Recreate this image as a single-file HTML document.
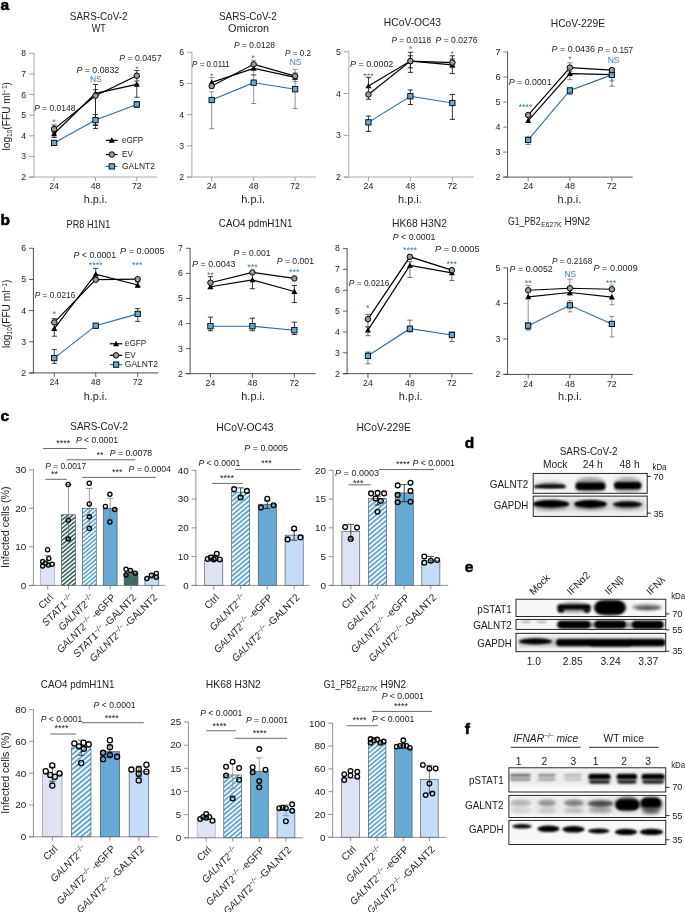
<!DOCTYPE html>
<html><head><meta charset="utf-8"><title>Figure</title>
<style>
html,body{margin:0;padding:0;background:#fff;}
svg{display:block;font-family:"Liberation Sans", sans-serif;fill:#222;will-change:transform;}
</style></head><body>
<svg width="685" height="912" viewBox="0 0 685 912">
<defs>
<pattern id="hb" width="2.9" height="2.9" patternUnits="userSpaceOnUse" patternTransform="rotate(-45)"><rect width="2.9" height="2.9" fill="#fff"/><rect width="2.9" height="1.7" fill="#66a9d2"/></pattern>
<pattern id="ht" width="2.9" height="2.9" patternUnits="userSpaceOnUse" patternTransform="rotate(-45)"><rect width="2.9" height="2.9" fill="#fff"/><rect width="2.9" height="1.7" fill="#3f6b67"/></pattern>
<filter id="b1" x="-20%" y="-50%" width="140%" height="200%"><feGaussianBlur stdDeviation="1.1"/></filter>
<filter id="b2" x="-20%" y="-50%" width="140%" height="200%"><feGaussianBlur stdDeviation="1.8"/></filter>
<filter id="b0" x="-20%" y="-50%" width="140%" height="200%"><feGaussianBlur stdDeviation="0.7"/></filter>
</defs>
<rect width="685" height="912" fill="#fff"/>
<text x="0.50" y="9.80" font-size="15.5" fill="#000" font-weight="bold" stroke="#000" stroke-width="0.55">a</text>
<text x="0.50" y="224.80" font-size="15.5" fill="#000" font-weight="bold" stroke="#000" stroke-width="0.55">b</text>
<line x1="34.00" y1="53.00" x2="34.00" y2="177.85" stroke="#c6c6c6" stroke-width="1.5" />
<line x1="29.10" y1="177.10" x2="157.50" y2="177.10" stroke="#c6c6c6" stroke-width="1.5" />
<line x1="29.10" y1="177.10" x2="34.00" y2="177.10" stroke="#777" stroke-width="0.7" />
<text x="26.20" y="180.05" font-size="8.3" text-anchor="end" textLength="4.85" lengthAdjust="spacingAndGlyphs">2</text>
<line x1="29.10" y1="156.47" x2="34.00" y2="156.47" stroke="#777" stroke-width="0.7" />
<text x="26.20" y="159.41" font-size="8.3" text-anchor="end" textLength="4.85" lengthAdjust="spacingAndGlyphs">3</text>
<line x1="29.10" y1="135.83" x2="34.00" y2="135.83" stroke="#777" stroke-width="0.7" />
<text x="26.20" y="138.78" font-size="8.3" text-anchor="end" textLength="4.85" lengthAdjust="spacingAndGlyphs">4</text>
<line x1="29.10" y1="115.20" x2="34.00" y2="115.20" stroke="#777" stroke-width="0.7" />
<text x="26.20" y="118.15" font-size="8.3" text-anchor="end" textLength="4.85" lengthAdjust="spacingAndGlyphs">5</text>
<line x1="29.10" y1="94.57" x2="34.00" y2="94.57" stroke="#777" stroke-width="0.7" />
<text x="26.20" y="97.51" font-size="8.3" text-anchor="end" textLength="4.85" lengthAdjust="spacingAndGlyphs">6</text>
<line x1="29.10" y1="73.93" x2="34.00" y2="73.93" stroke="#777" stroke-width="0.7" />
<text x="26.20" y="76.88" font-size="8.3" text-anchor="end" textLength="4.85" lengthAdjust="spacingAndGlyphs">7</text>
<line x1="29.10" y1="53.30" x2="34.00" y2="53.30" stroke="#777" stroke-width="0.7" />
<text x="26.20" y="56.25" font-size="8.3" text-anchor="end" textLength="4.85" lengthAdjust="spacingAndGlyphs">8</text>
<line x1="54.10" y1="177.10" x2="54.10" y2="181.10" stroke="#777" stroke-width="0.7" />
<text x="54.10" y="189.20" font-size="8.3" text-anchor="middle" textLength="9.70" lengthAdjust="spacingAndGlyphs">24</text>
<line x1="95.50" y1="177.10" x2="95.50" y2="181.10" stroke="#777" stroke-width="0.7" />
<text x="95.50" y="189.20" font-size="8.3" text-anchor="middle" textLength="9.70" lengthAdjust="spacingAndGlyphs">48</text>
<line x1="136.80" y1="177.10" x2="136.80" y2="181.10" stroke="#777" stroke-width="0.7" />
<text x="136.80" y="189.20" font-size="8.3" text-anchor="middle" textLength="9.70" lengthAdjust="spacingAndGlyphs">72</text>
<text x="98.70" y="20.30" font-size="10.3" text-anchor="middle" textLength="57.80" lengthAdjust="spacingAndGlyphs">SARS-CoV-2</text>
<text x="98.70" y="32.20" font-size="10.3" text-anchor="middle" textLength="14.00" lengthAdjust="spacingAndGlyphs">WT</text>
<text x="95.50" y="202.50" font-size="10.3" text-anchor="middle" textLength="23.70" lengthAdjust="spacingAndGlyphs">h.p.i.</text>
<text x="10.40" y="116.30" font-size="10.2" text-anchor="middle" transform="rotate(-90 10.40 116.30)">log<tspan font-size="6.5" dy="2">10</tspan><tspan dy="-2">(FFU ml</tspan><tspan font-size="6.5" dy="-3.5">−1</tspan><tspan dy="3.5">)</tspan></text>
<line x1="95.50" y1="84.50" x2="95.50" y2="128.50" stroke="#222" stroke-width="0.85" />
<line x1="92.90" y1="84.50" x2="98.10" y2="84.50" stroke="#222" stroke-width="0.85" />
<line x1="92.90" y1="128.50" x2="98.10" y2="128.50" stroke="#222" stroke-width="0.85" />
<line x1="95.50" y1="89.60" x2="95.50" y2="124.70" stroke="#222" stroke-width="0.85" />
<line x1="92.90" y1="89.60" x2="98.10" y2="89.60" stroke="#222" stroke-width="0.85" />
<line x1="92.90" y1="124.70" x2="98.10" y2="124.70" stroke="#222" stroke-width="0.85" />
<line x1="136.80" y1="70.50" x2="136.80" y2="81.00" stroke="#222" stroke-width="0.85" />
<line x1="134.20" y1="70.50" x2="139.40" y2="70.50" stroke="#222" stroke-width="0.85" />
<line x1="134.20" y1="81.00" x2="139.40" y2="81.00" stroke="#222" stroke-width="0.85" />
<line x1="136.80" y1="84.30" x2="136.80" y2="97.20" stroke="#222" stroke-width="0.85" />
<line x1="134.20" y1="84.30" x2="139.40" y2="84.30" stroke="#222" stroke-width="0.85" />
<line x1="134.20" y1="97.20" x2="139.40" y2="97.20" stroke="#222" stroke-width="0.85" />
<line x1="136.80" y1="101.50" x2="136.80" y2="107.30" stroke="#222" stroke-width="0.85" />
<line x1="134.20" y1="101.50" x2="139.40" y2="101.50" stroke="#222" stroke-width="0.85" />
<line x1="134.20" y1="107.30" x2="139.40" y2="107.30" stroke="#222" stroke-width="0.85" />
<line x1="54.10" y1="125.00" x2="54.10" y2="133.00" stroke="#222" stroke-width="0.85" />
<line x1="51.50" y1="125.00" x2="56.70" y2="125.00" stroke="#222" stroke-width="0.85" />
<line x1="51.50" y1="133.00" x2="56.70" y2="133.00" stroke="#222" stroke-width="0.85" />
<line x1="54.10" y1="131.00" x2="54.10" y2="137.50" stroke="#222" stroke-width="0.85" />
<line x1="51.50" y1="131.00" x2="56.70" y2="131.00" stroke="#222" stroke-width="0.85" />
<line x1="51.50" y1="137.50" x2="56.70" y2="137.50" stroke="#222" stroke-width="0.85" />
<line x1="95.50" y1="114.60" x2="95.50" y2="125.50" stroke="#222" stroke-width="0.85" />
<line x1="92.90" y1="114.60" x2="98.10" y2="114.60" stroke="#222" stroke-width="0.85" />
<line x1="92.90" y1="125.50" x2="98.10" y2="125.50" stroke="#222" stroke-width="0.85" />
<polyline points="54.10,142.90 95.50,120.10 136.80,104.40" fill="none" stroke="#2f6c9c" stroke-width="1.1"/>
<polyline points="54.10,133.80 95.50,93.40 136.80,84.30" fill="none" stroke="#000" stroke-width="1.2"/>
<polyline points="54.10,129.10 95.50,95.70 136.80,75.70" fill="none" stroke="#000" stroke-width="1.2"/>
<path d="M54.10 130.80 L57.10 136.20 L51.10 136.20 Z" fill="#000"/>
<path d="M95.50 90.40 L98.50 95.80 L92.50 95.80 Z" fill="#000"/>
<path d="M136.80 81.30 L139.80 86.70 L133.80 86.70 Z" fill="#000"/>
<rect x="51.45" y="140.25" width="5.3" height="5.3" fill="#66a9d2" stroke="#000" stroke-width="0.9"/>
<rect x="92.85" y="117.45" width="5.3" height="5.3" fill="#66a9d2" stroke="#000" stroke-width="0.9"/>
<rect x="134.15" y="101.75" width="5.3" height="5.3" fill="#66a9d2" stroke="#000" stroke-width="0.9"/>
<circle cx="54.10" cy="129.10" r="2.75" fill="#9b9b9b" stroke="#000" stroke-width="1.0"/>
<circle cx="95.50" cy="95.70" r="2.75" fill="#9b9b9b" stroke="#000" stroke-width="1.0"/>
<circle cx="136.80" cy="75.70" r="2.75" fill="#9b9b9b" stroke="#000" stroke-width="1.0"/>
<line x1="105.90" y1="140.30" x2="117.70" y2="140.30" stroke="#000" stroke-width="1.2" />
<path d="M111.80 137.30 L114.80 142.70 L108.80 142.70 Z" fill="#000"/>
<line x1="105.90" y1="154.50" x2="117.70" y2="154.50" stroke="#000" stroke-width="1.2" />
<circle cx="111.80" cy="154.50" r="2.75" fill="#9b9b9b" stroke="#000" stroke-width="1.0"/>
<line x1="105.90" y1="166.40" x2="117.70" y2="166.40" stroke="#2f6c9c" stroke-width="1.1" />
<rect x="109.15" y="163.75" width="5.3" height="5.3" fill="#66a9d2" stroke="#000" stroke-width="0.9"/>
<text x="122.00" y="142.70" font-size="8.8" textLength="21.30" lengthAdjust="spacingAndGlyphs">eGFP</text>
<text x="122.00" y="156.90" font-size="8.8" textLength="10.80" lengthAdjust="spacingAndGlyphs">EV</text>
<text x="122.00" y="168.80" font-size="8.8" textLength="33.00" lengthAdjust="spacingAndGlyphs">GALNT2</text>
<text x="34.20" y="110.80" font-size="8.6" textLength="41.30" lengthAdjust="spacingAndGlyphs"><tspan font-style="italic">P</tspan> = 0.0148</text>
<text x="54.10" y="125.05" font-size="9.0" text-anchor="middle" fill="#3b7bb0">*</text>
<text x="76.50" y="73.10" font-size="8.6" textLength="42.70" lengthAdjust="spacingAndGlyphs"><tspan font-style="italic">P</tspan> = 0.0832</text>
<text x="96.00" y="82.00" font-size="8.5" text-anchor="middle" fill="#3b7bb0">NS</text>
<text x="119.20" y="61.10" font-size="8.6" textLength="42.30" lengthAdjust="spacingAndGlyphs"><tspan font-style="italic">P</tspan> = 0.0457</text>
<text x="137.00" y="72.35" font-size="9.0" text-anchor="middle" fill="#3b7bb0">*</text>
<line x1="191.90" y1="52.00" x2="191.90" y2="177.85" stroke="#c6c6c6" stroke-width="1.5" />
<line x1="187.00" y1="177.10" x2="316.00" y2="177.10" stroke="#c6c6c6" stroke-width="1.5" />
<line x1="187.00" y1="177.10" x2="191.90" y2="177.10" stroke="#777" stroke-width="0.7" />
<text x="184.10" y="180.05" font-size="8.3" text-anchor="end" textLength="4.85" lengthAdjust="spacingAndGlyphs">2</text>
<line x1="187.00" y1="145.90" x2="191.90" y2="145.90" stroke="#777" stroke-width="0.7" />
<text x="184.10" y="148.85" font-size="8.3" text-anchor="end" textLength="4.85" lengthAdjust="spacingAndGlyphs">3</text>
<line x1="187.00" y1="114.70" x2="191.90" y2="114.70" stroke="#777" stroke-width="0.7" />
<text x="184.10" y="117.65" font-size="8.3" text-anchor="end" textLength="4.85" lengthAdjust="spacingAndGlyphs">4</text>
<line x1="187.00" y1="83.50" x2="191.90" y2="83.50" stroke="#777" stroke-width="0.7" />
<text x="184.10" y="86.45" font-size="8.3" text-anchor="end" textLength="4.85" lengthAdjust="spacingAndGlyphs">5</text>
<line x1="187.00" y1="52.30" x2="191.90" y2="52.30" stroke="#777" stroke-width="0.7" />
<text x="184.10" y="55.25" font-size="8.3" text-anchor="end" textLength="4.85" lengthAdjust="spacingAndGlyphs">6</text>
<line x1="211.70" y1="177.10" x2="211.70" y2="181.10" stroke="#777" stroke-width="0.7" />
<text x="211.70" y="189.20" font-size="8.3" text-anchor="middle" textLength="9.70" lengthAdjust="spacingAndGlyphs">24</text>
<line x1="253.66" y1="177.10" x2="253.66" y2="181.10" stroke="#777" stroke-width="0.7" />
<text x="253.66" y="189.20" font-size="8.3" text-anchor="middle" textLength="9.70" lengthAdjust="spacingAndGlyphs">48</text>
<line x1="295.12" y1="177.10" x2="295.12" y2="181.10" stroke="#777" stroke-width="0.7" />
<text x="295.12" y="189.20" font-size="8.3" text-anchor="middle" textLength="9.70" lengthAdjust="spacingAndGlyphs">72</text>
<text x="247.88" y="20.30" font-size="10.3" text-anchor="middle" textLength="57.80" lengthAdjust="spacingAndGlyphs">SARS-CoV-2</text>
<text x="248.63" y="32.20" font-size="10.3" text-anchor="middle" textLength="41.00" lengthAdjust="spacingAndGlyphs">Omicron</text>
<text x="253.16" y="202.50" font-size="10.3" text-anchor="middle" textLength="23.70" lengthAdjust="spacingAndGlyphs">h.p.i.</text>
<line x1="211.70" y1="91.71" x2="211.70" y2="128.64" stroke="#666" stroke-width="0.7" />
<line x1="209.10" y1="91.71" x2="214.30" y2="91.71" stroke="#666" stroke-width="0.7" />
<line x1="209.10" y1="128.64" x2="214.30" y2="128.64" stroke="#666" stroke-width="0.7" />
<line x1="253.66" y1="74.62" x2="253.66" y2="103.52" stroke="#666" stroke-width="0.7" />
<line x1="251.06" y1="74.62" x2="256.26" y2="74.62" stroke="#666" stroke-width="0.7" />
<line x1="251.06" y1="103.52" x2="256.26" y2="103.52" stroke="#666" stroke-width="0.7" />
<line x1="295.12" y1="69.35" x2="295.12" y2="108.54" stroke="#666" stroke-width="0.7" />
<line x1="292.52" y1="69.35" x2="297.72" y2="69.35" stroke="#666" stroke-width="0.7" />
<line x1="292.52" y1="108.54" x2="297.72" y2="108.54" stroke="#666" stroke-width="0.7" />
<line x1="211.70" y1="77.39" x2="211.70" y2="88.44" stroke="#666" stroke-width="0.7" />
<line x1="209.10" y1="77.39" x2="214.30" y2="77.39" stroke="#666" stroke-width="0.7" />
<line x1="209.10" y1="88.44" x2="214.30" y2="88.44" stroke="#666" stroke-width="0.7" />
<line x1="253.66" y1="60.30" x2="253.66" y2="75.38" stroke="#666" stroke-width="0.7" />
<line x1="251.06" y1="60.30" x2="256.26" y2="60.30" stroke="#666" stroke-width="0.7" />
<line x1="251.06" y1="75.38" x2="256.26" y2="75.38" stroke="#666" stroke-width="0.7" />
<line x1="295.12" y1="72.86" x2="295.12" y2="81.66" stroke="#666" stroke-width="0.7" />
<line x1="292.52" y1="72.86" x2="297.72" y2="72.86" stroke="#666" stroke-width="0.7" />
<line x1="292.52" y1="81.66" x2="297.72" y2="81.66" stroke="#666" stroke-width="0.7" />
<polyline points="211.70,100.00 253.66,82.66 295.12,89.20" fill="none" stroke="#2f6c9c" stroke-width="1.1"/>
<polyline points="211.70,82.41 253.66,68.34 295.12,77.39" fill="none" stroke="#000" stroke-width="1.2"/>
<polyline points="211.70,85.93 253.66,64.32 295.12,76.13" fill="none" stroke="#000" stroke-width="1.2"/>
<path d="M211.70 79.41 L214.70 84.81 L208.70 84.81 Z" fill="#000"/>
<path d="M253.66 65.34 L256.66 70.74 L250.66 70.74 Z" fill="#000"/>
<path d="M295.12 74.39 L298.12 79.79 L292.12 79.79 Z" fill="#000"/>
<rect x="209.05" y="97.35" width="5.3" height="5.3" fill="#66a9d2" stroke="#000" stroke-width="0.9"/>
<rect x="251.01" y="80.01" width="5.3" height="5.3" fill="#66a9d2" stroke="#000" stroke-width="0.9"/>
<rect x="292.47" y="86.55" width="5.3" height="5.3" fill="#66a9d2" stroke="#000" stroke-width="0.9"/>
<circle cx="211.70" cy="85.93" r="2.75" fill="#9b9b9b" stroke="#000" stroke-width="1.0"/>
<circle cx="253.66" cy="64.32" r="2.75" fill="#9b9b9b" stroke="#000" stroke-width="1.0"/>
<circle cx="295.12" cy="76.13" r="2.75" fill="#9b9b9b" stroke="#000" stroke-width="1.0"/>
<text x="192.10" y="67.34" font-size="8.6" textLength="37.69" lengthAdjust="spacingAndGlyphs"><tspan font-style="italic">P</tspan> = 0.0111</text>
<text x="211.70" y="79.18" font-size="9.0" text-anchor="middle" fill="#3b7bb0">*</text>
<text x="234.06" y="47.74" font-size="8.6" textLength="40.95" lengthAdjust="spacingAndGlyphs"><tspan font-style="italic">P</tspan> = 0.0128</text>
<text x="252.90" y="60.83" font-size="9.0" text-anchor="middle" fill="#3b7bb0">*</text>
<text x="285.07" y="55.78" font-size="8.6" textLength="25.88" lengthAdjust="spacingAndGlyphs"><tspan font-style="italic">P</tspan> = 0.2</text>
<text x="295.62" y="64.57" font-size="8.5" text-anchor="middle" fill="#3b7bb0">NS</text>
<line x1="348.70" y1="51.50" x2="348.70" y2="177.85" stroke="#c6c6c6" stroke-width="1.5" />
<line x1="343.80" y1="177.10" x2="473.70" y2="177.10" stroke="#c6c6c6" stroke-width="1.5" />
<line x1="343.80" y1="177.10" x2="348.70" y2="177.10" stroke="#777" stroke-width="0.7" />
<text x="340.90" y="180.05" font-size="8.3" text-anchor="end" textLength="4.85" lengthAdjust="spacingAndGlyphs">2</text>
<line x1="343.80" y1="135.33" x2="348.70" y2="135.33" stroke="#777" stroke-width="0.7" />
<text x="340.90" y="138.28" font-size="8.3" text-anchor="end" textLength="4.85" lengthAdjust="spacingAndGlyphs">3</text>
<line x1="343.80" y1="93.57" x2="348.70" y2="93.57" stroke="#777" stroke-width="0.7" />
<text x="340.90" y="96.51" font-size="8.3" text-anchor="end" textLength="4.85" lengthAdjust="spacingAndGlyphs">4</text>
<line x1="343.80" y1="51.80" x2="348.70" y2="51.80" stroke="#777" stroke-width="0.7" />
<text x="340.90" y="54.75" font-size="8.3" text-anchor="end" textLength="4.85" lengthAdjust="spacingAndGlyphs">5</text>
<line x1="368.44" y1="177.10" x2="368.44" y2="181.10" stroke="#777" stroke-width="0.7" />
<text x="368.44" y="189.20" font-size="8.3" text-anchor="middle" textLength="9.70" lengthAdjust="spacingAndGlyphs">24</text>
<line x1="410.40" y1="177.10" x2="410.40" y2="181.10" stroke="#777" stroke-width="0.7" />
<text x="410.40" y="189.20" font-size="8.3" text-anchor="middle" textLength="9.70" lengthAdjust="spacingAndGlyphs">48</text>
<line x1="452.36" y1="177.10" x2="452.36" y2="181.10" stroke="#777" stroke-width="0.7" />
<text x="452.36" y="189.20" font-size="8.3" text-anchor="middle" textLength="9.70" lengthAdjust="spacingAndGlyphs">72</text>
<text x="412.41" y="25.63" font-size="10.3" text-anchor="middle">HCoV-OC43</text>
<text x="409.90" y="202.50" font-size="10.3" text-anchor="middle" textLength="23.70" lengthAdjust="spacingAndGlyphs">h.p.i.</text>
<line x1="368.44" y1="77.39" x2="368.44" y2="99.25" stroke="#111" stroke-width="0.85" />
<line x1="365.84" y1="77.39" x2="371.04" y2="77.39" stroke="#111" stroke-width="0.85" />
<line x1="365.84" y1="99.25" x2="371.04" y2="99.25" stroke="#111" stroke-width="0.85" />
<line x1="410.40" y1="52.26" x2="410.40" y2="72.36" stroke="#111" stroke-width="0.85" />
<line x1="407.80" y1="52.26" x2="413.00" y2="52.26" stroke="#111" stroke-width="0.85" />
<line x1="407.80" y1="72.36" x2="413.00" y2="72.36" stroke="#111" stroke-width="0.85" />
<line x1="410.40" y1="55.78" x2="410.40" y2="67.84" stroke="#111" stroke-width="0.85" />
<line x1="407.80" y1="55.78" x2="413.00" y2="55.78" stroke="#111" stroke-width="0.85" />
<line x1="407.80" y1="67.84" x2="413.00" y2="67.84" stroke="#111" stroke-width="0.85" />
<line x1="452.36" y1="55.78" x2="452.36" y2="73.62" stroke="#111" stroke-width="0.85" />
<line x1="449.76" y1="55.78" x2="454.96" y2="55.78" stroke="#111" stroke-width="0.85" />
<line x1="449.76" y1="73.62" x2="454.96" y2="73.62" stroke="#111" stroke-width="0.85" />
<line x1="452.36" y1="59.05" x2="452.36" y2="67.34" stroke="#111" stroke-width="0.85" />
<line x1="449.76" y1="59.05" x2="454.96" y2="59.05" stroke="#111" stroke-width="0.85" />
<line x1="449.76" y1="67.34" x2="454.96" y2="67.34" stroke="#111" stroke-width="0.85" />
<line x1="368.44" y1="116.08" x2="368.44" y2="131.41" stroke="#111" stroke-width="0.85" />
<line x1="365.84" y1="116.08" x2="371.04" y2="116.08" stroke="#111" stroke-width="0.85" />
<line x1="365.84" y1="131.41" x2="371.04" y2="131.41" stroke="#111" stroke-width="0.85" />
<line x1="410.40" y1="89.95" x2="410.40" y2="104.52" stroke="#111" stroke-width="0.85" />
<line x1="407.80" y1="89.95" x2="413.00" y2="89.95" stroke="#111" stroke-width="0.85" />
<line x1="407.80" y1="104.52" x2="413.00" y2="104.52" stroke="#111" stroke-width="0.85" />
<line x1="452.36" y1="94.47" x2="452.36" y2="119.35" stroke="#111" stroke-width="0.85" />
<line x1="449.76" y1="94.47" x2="454.96" y2="94.47" stroke="#111" stroke-width="0.85" />
<line x1="449.76" y1="119.35" x2="454.96" y2="119.35" stroke="#111" stroke-width="0.85" />
<polyline points="368.44,122.36 410.40,96.23 452.36,103.02" fill="none" stroke="#2f6c9c" stroke-width="1.1"/>
<polyline points="368.44,85.93 410.40,61.06 452.36,64.82" fill="none" stroke="#000" stroke-width="1.2"/>
<polyline points="368.44,94.47 410.40,61.06 452.36,62.56" fill="none" stroke="#000" stroke-width="1.2"/>
<path d="M368.44 82.93 L371.44 88.33 L365.44 88.33 Z" fill="#000"/>
<path d="M410.40 58.06 L413.40 63.46 L407.40 63.46 Z" fill="#000"/>
<path d="M452.36 61.82 L455.36 67.22 L449.36 67.22 Z" fill="#000"/>
<rect x="365.79" y="119.71" width="5.3" height="5.3" fill="#66a9d2" stroke="#000" stroke-width="0.9"/>
<rect x="407.75" y="93.58" width="5.3" height="5.3" fill="#66a9d2" stroke="#000" stroke-width="0.9"/>
<rect x="449.71" y="100.37" width="5.3" height="5.3" fill="#66a9d2" stroke="#000" stroke-width="0.9"/>
<circle cx="368.44" cy="94.47" r="2.75" fill="#9b9b9b" stroke="#000" stroke-width="1.0"/>
<circle cx="410.40" cy="61.06" r="2.75" fill="#9b9b9b" stroke="#000" stroke-width="1.0"/>
<circle cx="452.36" cy="62.56" r="2.75" fill="#9b9b9b" stroke="#000" stroke-width="1.0"/>
<text x="350.10" y="66.58" font-size="8.6" textLength="43.22" lengthAdjust="spacingAndGlyphs"><tspan font-style="italic">P</tspan> = 0.0002</text>
<text x="368.44" y="78.92" font-size="9.0" text-anchor="middle" fill="#3b7bb0">***</text>
<text x="391.56" y="43.22" font-size="8.6" textLength="39.45" lengthAdjust="spacingAndGlyphs"><tspan font-style="italic">P</tspan> = 0.0118</text>
<text x="410.40" y="52.42" font-size="9.0" text-anchor="middle" fill="#3b7bb0">*</text>
<text x="435.53" y="43.22" font-size="8.6" textLength="41.96" lengthAdjust="spacingAndGlyphs"><tspan font-style="italic">P</tspan> = 0.0276</text>
<text x="452.36" y="57.07" font-size="9.0" text-anchor="middle" fill="#3b7bb0">*</text>
<line x1="507.60" y1="51.70" x2="507.60" y2="177.60" stroke="#5a5a5a" stroke-width="1.0" />
<line x1="503.30" y1="177.10" x2="632.70" y2="177.10" stroke="#5a5a5a" stroke-width="1.0" />
<line x1="503.30" y1="177.10" x2="507.60" y2="177.10" stroke="#5a5a5a" stroke-width="0.8" />
<text x="500.40" y="180.15" font-size="8.6" text-anchor="end" textLength="5.00" lengthAdjust="spacingAndGlyphs">2</text>
<line x1="503.30" y1="152.08" x2="507.60" y2="152.08" stroke="#5a5a5a" stroke-width="0.8" />
<text x="500.40" y="155.13" font-size="8.6" text-anchor="end" textLength="5.00" lengthAdjust="spacingAndGlyphs">3</text>
<line x1="503.30" y1="127.06" x2="507.60" y2="127.06" stroke="#5a5a5a" stroke-width="0.8" />
<text x="500.40" y="130.11" font-size="8.6" text-anchor="end" textLength="5.00" lengthAdjust="spacingAndGlyphs">4</text>
<line x1="503.30" y1="102.04" x2="507.60" y2="102.04" stroke="#5a5a5a" stroke-width="0.8" />
<text x="500.40" y="105.09" font-size="8.6" text-anchor="end" textLength="5.00" lengthAdjust="spacingAndGlyphs">5</text>
<line x1="503.30" y1="77.02" x2="507.60" y2="77.02" stroke="#5a5a5a" stroke-width="0.8" />
<text x="500.40" y="80.07" font-size="8.6" text-anchor="end" textLength="5.00" lengthAdjust="spacingAndGlyphs">6</text>
<line x1="503.30" y1="52.00" x2="507.60" y2="52.00" stroke="#5a5a5a" stroke-width="0.8" />
<text x="500.40" y="55.05" font-size="8.6" text-anchor="end" textLength="5.00" lengthAdjust="spacingAndGlyphs">7</text>
<line x1="528.19" y1="177.10" x2="528.19" y2="181.10" stroke="#5a5a5a" stroke-width="0.8" />
<text x="528.19" y="189.20" font-size="8.6" text-anchor="middle" textLength="10.00" lengthAdjust="spacingAndGlyphs">24</text>
<line x1="569.90" y1="177.10" x2="569.90" y2="181.10" stroke="#5a5a5a" stroke-width="0.8" />
<text x="569.90" y="189.20" font-size="8.6" text-anchor="middle" textLength="10.00" lengthAdjust="spacingAndGlyphs">48</text>
<line x1="611.86" y1="177.10" x2="611.86" y2="181.10" stroke="#5a5a5a" stroke-width="0.8" />
<text x="611.86" y="189.20" font-size="8.6" text-anchor="middle" textLength="10.00" lengthAdjust="spacingAndGlyphs">72</text>
<text x="577.94" y="27.14" font-size="10.3" text-anchor="middle">HCoV-229E</text>
<text x="569.40" y="202.50" font-size="10.3" text-anchor="middle" textLength="23.70" lengthAdjust="spacingAndGlyphs">h.p.i.</text>
<line x1="569.90" y1="62.81" x2="569.90" y2="71.61" stroke="#555" stroke-width="0.7" />
<line x1="567.30" y1="62.81" x2="572.50" y2="62.81" stroke="#555" stroke-width="0.7" />
<line x1="567.30" y1="71.61" x2="572.50" y2="71.61" stroke="#555" stroke-width="0.7" />
<line x1="569.90" y1="73.62" x2="569.90" y2="79.65" stroke="#555" stroke-width="0.7" />
<line x1="567.30" y1="73.62" x2="572.50" y2="73.62" stroke="#555" stroke-width="0.7" />
<line x1="567.30" y1="79.65" x2="572.50" y2="79.65" stroke="#555" stroke-width="0.7" />
<line x1="611.86" y1="74.87" x2="611.86" y2="86.18" stroke="#555" stroke-width="0.7" />
<line x1="609.26" y1="74.87" x2="614.46" y2="74.87" stroke="#555" stroke-width="0.7" />
<line x1="609.26" y1="86.18" x2="614.46" y2="86.18" stroke="#555" stroke-width="0.7" />
<line x1="611.86" y1="71.61" x2="611.86" y2="80.90" stroke="#555" stroke-width="0.7" />
<line x1="609.26" y1="71.61" x2="614.46" y2="71.61" stroke="#555" stroke-width="0.7" />
<line x1="609.26" y1="80.90" x2="614.46" y2="80.90" stroke="#555" stroke-width="0.7" />
<line x1="528.19" y1="136.93" x2="528.19" y2="144.47" stroke="#555" stroke-width="0.7" />
<line x1="525.59" y1="136.93" x2="530.79" y2="136.93" stroke="#555" stroke-width="0.7" />
<line x1="525.59" y1="144.47" x2="530.79" y2="144.47" stroke="#555" stroke-width="0.7" />
<line x1="569.90" y1="87.94" x2="569.90" y2="94.47" stroke="#555" stroke-width="0.7" />
<line x1="567.30" y1="87.94" x2="572.50" y2="87.94" stroke="#555" stroke-width="0.7" />
<line x1="567.30" y1="94.47" x2="572.50" y2="94.47" stroke="#555" stroke-width="0.7" />
<polyline points="528.19,139.95 569.90,90.45 611.86,74.87" fill="none" stroke="#2f6c9c" stroke-width="1.1"/>
<polyline points="528.19,120.60 569.90,73.62 611.86,74.62" fill="none" stroke="#000" stroke-width="1.2"/>
<polyline points="528.19,115.08 569.90,67.59 611.86,70.10" fill="none" stroke="#000" stroke-width="1.2"/>
<path d="M528.19 117.60 L531.19 123.00 L525.19 123.00 Z" fill="#000"/>
<path d="M569.90 70.62 L572.90 76.02 L566.90 76.02 Z" fill="#000"/>
<path d="M611.86 71.62 L614.86 77.02 L608.86 77.02 Z" fill="#000"/>
<rect x="525.54" y="137.30" width="5.3" height="5.3" fill="#66a9d2" stroke="#000" stroke-width="0.9"/>
<rect x="567.25" y="87.80" width="5.3" height="5.3" fill="#66a9d2" stroke="#000" stroke-width="0.9"/>
<rect x="609.21" y="72.22" width="5.3" height="5.3" fill="#66a9d2" stroke="#000" stroke-width="0.9"/>
<circle cx="528.19" cy="115.08" r="2.75" fill="#9b9b9b" stroke="#000" stroke-width="1.0"/>
<circle cx="569.90" cy="67.59" r="2.75" fill="#9b9b9b" stroke="#000" stroke-width="1.0"/>
<circle cx="611.86" cy="70.10" r="2.75" fill="#9b9b9b" stroke="#000" stroke-width="1.0"/>
<text x="508.84" y="85.43" font-size="8.6" textLength="42.71" lengthAdjust="spacingAndGlyphs"><tspan font-style="italic">P</tspan> = 0.0001</text>
<text x="525.43" y="110.08" font-size="9.0" text-anchor="middle" fill="#3b7bb0">****</text>
<text x="551.56" y="52.01" font-size="8.6" textLength="43.47" lengthAdjust="spacingAndGlyphs"><tspan font-style="italic">P</tspan> = 0.0436</text>
<text x="569.90" y="61.59" font-size="9.0" text-anchor="middle" fill="#3b7bb0">*</text>
<text x="597.54" y="53.27" font-size="8.6" textLength="35.68" lengthAdjust="spacingAndGlyphs"><tspan font-style="italic">P</tspan> = 0.157</text>
<text x="613.62" y="62.81" font-size="8.5" text-anchor="middle" fill="#3b7bb0">NS</text>
<line x1="33.40" y1="247.99" x2="33.40" y2="373.36" stroke="#3a3a3a" stroke-width="0.9" />
<line x1="29.10" y1="372.91" x2="158.30" y2="372.91" stroke="#3a3a3a" stroke-width="0.9" />
<line x1="29.10" y1="372.91" x2="33.40" y2="372.91" stroke="#3a3a3a" stroke-width="0.8" />
<text x="26.20" y="375.86" font-size="8.3" text-anchor="end" textLength="4.85" lengthAdjust="spacingAndGlyphs">2</text>
<line x1="29.10" y1="341.76" x2="33.40" y2="341.76" stroke="#3a3a3a" stroke-width="0.8" />
<text x="26.20" y="344.71" font-size="8.3" text-anchor="end" textLength="4.85" lengthAdjust="spacingAndGlyphs">3</text>
<line x1="29.10" y1="310.60" x2="33.40" y2="310.60" stroke="#3a3a3a" stroke-width="0.8" />
<text x="26.20" y="313.55" font-size="8.3" text-anchor="end" textLength="4.85" lengthAdjust="spacingAndGlyphs">4</text>
<line x1="29.10" y1="279.45" x2="33.40" y2="279.45" stroke="#3a3a3a" stroke-width="0.8" />
<text x="26.20" y="282.39" font-size="8.3" text-anchor="end" textLength="4.85" lengthAdjust="spacingAndGlyphs">5</text>
<line x1="29.10" y1="248.29" x2="33.40" y2="248.29" stroke="#3a3a3a" stroke-width="0.8" />
<text x="26.20" y="251.24" font-size="8.3" text-anchor="end" textLength="4.85" lengthAdjust="spacingAndGlyphs">6</text>
<line x1="54.27" y1="372.91" x2="54.27" y2="376.91" stroke="#3a3a3a" stroke-width="0.8" />
<text x="54.27" y="385.01" font-size="8.3" text-anchor="middle" textLength="9.70" lengthAdjust="spacingAndGlyphs">24</text>
<line x1="95.73" y1="372.91" x2="95.73" y2="376.91" stroke="#3a3a3a" stroke-width="0.8" />
<text x="95.73" y="385.01" font-size="8.3" text-anchor="middle" textLength="9.70" lengthAdjust="spacingAndGlyphs">48</text>
<line x1="137.69" y1="372.91" x2="137.69" y2="376.91" stroke="#3a3a3a" stroke-width="0.8" />
<text x="137.69" y="385.01" font-size="8.3" text-anchor="middle" textLength="9.70" lengthAdjust="spacingAndGlyphs">72</text>
<text x="88.44" y="227.69" font-size="10.2" text-anchor="middle" textLength="43.70" lengthAdjust="spacingAndGlyphs">PR8 H1N1</text>
<text x="95.50" y="399.50" font-size="10.3" text-anchor="middle" textLength="23.70" lengthAdjust="spacingAndGlyphs">h.p.i.</text>
<text x="10.40" y="313.87" font-size="10.2" text-anchor="middle" transform="rotate(-90 10.40 313.87)">log<tspan font-size="6.5" dy="2">10</tspan><tspan dy="-2">(FFU ml</tspan><tspan font-size="6.5" dy="-3.5">−1</tspan><tspan dy="3.5">)</tspan></text>
<line x1="54.27" y1="318.64" x2="54.27" y2="336.23" stroke="#222" stroke-width="0.85" />
<line x1="51.67" y1="318.64" x2="56.87" y2="318.64" stroke="#222" stroke-width="0.85" />
<line x1="51.67" y1="336.23" x2="56.87" y2="336.23" stroke="#222" stroke-width="0.85" />
<line x1="95.73" y1="268.39" x2="95.73" y2="277.94" stroke="#222" stroke-width="0.85" />
<line x1="93.13" y1="268.39" x2="98.33" y2="268.39" stroke="#222" stroke-width="0.85" />
<line x1="93.13" y1="277.94" x2="98.33" y2="277.94" stroke="#222" stroke-width="0.85" />
<line x1="54.27" y1="349.55" x2="54.27" y2="363.37" stroke="#222" stroke-width="0.85" />
<line x1="51.67" y1="349.55" x2="56.87" y2="349.55" stroke="#222" stroke-width="0.85" />
<line x1="51.67" y1="363.37" x2="56.87" y2="363.37" stroke="#222" stroke-width="0.85" />
<line x1="137.69" y1="308.59" x2="137.69" y2="321.41" stroke="#222" stroke-width="0.85" />
<line x1="135.09" y1="308.59" x2="140.29" y2="308.59" stroke="#222" stroke-width="0.85" />
<line x1="135.09" y1="321.41" x2="140.29" y2="321.41" stroke="#222" stroke-width="0.85" />
<line x1="137.69" y1="281.96" x2="137.69" y2="287.49" stroke="#222" stroke-width="0.85" />
<line x1="135.09" y1="281.96" x2="140.29" y2="281.96" stroke="#222" stroke-width="0.85" />
<line x1="135.09" y1="287.49" x2="140.29" y2="287.49" stroke="#222" stroke-width="0.85" />
<polyline points="54.27,358.09 95.73,325.68 137.69,313.87" fill="none" stroke="#2f6c9c" stroke-width="1.1"/>
<polyline points="54.27,328.69 95.73,274.17 137.69,284.97" fill="none" stroke="#000" stroke-width="1.2"/>
<polyline points="54.27,322.41 95.73,279.70 137.69,279.20" fill="none" stroke="#000" stroke-width="1.2"/>
<path d="M54.27 325.69 L57.27 331.09 L51.27 331.09 Z" fill="#000"/>
<path d="M95.73 271.17 L98.73 276.57 L92.73 276.57 Z" fill="#000"/>
<path d="M137.69 281.97 L140.69 287.37 L134.69 287.37 Z" fill="#000"/>
<rect x="51.62" y="355.44" width="5.3" height="5.3" fill="#66a9d2" stroke="#000" stroke-width="0.9"/>
<rect x="93.08" y="323.03" width="5.3" height="5.3" fill="#66a9d2" stroke="#000" stroke-width="0.9"/>
<rect x="135.04" y="311.22" width="5.3" height="5.3" fill="#66a9d2" stroke="#000" stroke-width="0.9"/>
<circle cx="54.27" cy="322.41" r="2.75" fill="#9b9b9b" stroke="#000" stroke-width="1.0"/>
<circle cx="95.73" cy="279.70" r="2.75" fill="#9b9b9b" stroke="#000" stroke-width="1.0"/>
<circle cx="137.69" cy="279.20" r="2.75" fill="#9b9b9b" stroke="#000" stroke-width="1.0"/>
<line x1="109.80" y1="343.77" x2="122.36" y2="343.77" stroke="#000" stroke-width="1.2" />
<path d="M116.08 340.77 L119.08 346.17 L113.08 346.17 Z" fill="#000"/>
<line x1="109.80" y1="355.33" x2="122.36" y2="355.33" stroke="#000" stroke-width="1.2" />
<circle cx="116.08" cy="355.33" r="2.75" fill="#9b9b9b" stroke="#000" stroke-width="1.0"/>
<line x1="109.80" y1="364.62" x2="122.36" y2="364.62" stroke="#2f6c9c" stroke-width="1.1" />
<rect x="113.43" y="361.97" width="5.3" height="5.3" fill="#66a9d2" stroke="#000" stroke-width="0.9"/>
<text x="124.87" y="346.17" font-size="8.8" textLength="21.30" lengthAdjust="spacingAndGlyphs">eGFP</text>
<text x="124.87" y="357.73" font-size="8.8" textLength="10.80" lengthAdjust="spacingAndGlyphs">EV</text>
<text x="124.87" y="367.02" font-size="8.8" textLength="33.00" lengthAdjust="spacingAndGlyphs">GALNT2</text>
<text x="34.67" y="297.54" font-size="8.6" textLength="40.70" lengthAdjust="spacingAndGlyphs"><tspan font-style="italic">P</tspan> = 0.0216</text>
<text x="54.27" y="317.42" font-size="9.0" text-anchor="middle" fill="#3b7bb0">*</text>
<text x="73.62" y="257.84" font-size="8.6" textLength="42.46" lengthAdjust="spacingAndGlyphs"><tspan font-style="italic">P</tspan> &lt; 0.0001</text>
<text x="95.73" y="268.42" font-size="9.0" text-anchor="middle" fill="#3b7bb0">****</text>
<text x="120.10" y="254.07" font-size="8.6" textLength="44.47" lengthAdjust="spacingAndGlyphs"><tspan font-style="italic">P</tspan> = 0.0005</text>
<text x="137.19" y="268.42" font-size="9.0" text-anchor="middle" fill="#3b7bb0">***</text>
<line x1="190.10" y1="247.99" x2="190.10" y2="374.12" stroke="#3a3a3a" stroke-width="0.9" />
<line x1="185.80" y1="373.67" x2="315.70" y2="373.67" stroke="#3a3a3a" stroke-width="0.9" />
<line x1="185.80" y1="373.67" x2="190.10" y2="373.67" stroke="#3a3a3a" stroke-width="0.8" />
<text x="182.90" y="376.61" font-size="8.3" text-anchor="end" textLength="4.85" lengthAdjust="spacingAndGlyphs">2</text>
<line x1="185.80" y1="348.59" x2="190.10" y2="348.59" stroke="#3a3a3a" stroke-width="0.8" />
<text x="182.90" y="351.54" font-size="8.3" text-anchor="end" textLength="4.85" lengthAdjust="spacingAndGlyphs">3</text>
<line x1="185.80" y1="323.52" x2="190.10" y2="323.52" stroke="#3a3a3a" stroke-width="0.8" />
<text x="182.90" y="326.46" font-size="8.3" text-anchor="end" textLength="4.85" lengthAdjust="spacingAndGlyphs">4</text>
<line x1="185.80" y1="298.44" x2="190.10" y2="298.44" stroke="#3a3a3a" stroke-width="0.8" />
<text x="182.90" y="301.39" font-size="8.3" text-anchor="end" textLength="4.85" lengthAdjust="spacingAndGlyphs">5</text>
<line x1="185.80" y1="273.37" x2="190.10" y2="273.37" stroke="#3a3a3a" stroke-width="0.8" />
<text x="182.90" y="276.31" font-size="8.3" text-anchor="end" textLength="4.85" lengthAdjust="spacingAndGlyphs">6</text>
<line x1="185.80" y1="248.29" x2="190.10" y2="248.29" stroke="#3a3a3a" stroke-width="0.8" />
<text x="182.90" y="251.24" font-size="8.3" text-anchor="end" textLength="4.85" lengthAdjust="spacingAndGlyphs">7</text>
<line x1="210.44" y1="373.67" x2="210.44" y2="377.67" stroke="#3a3a3a" stroke-width="0.8" />
<text x="210.44" y="385.77" font-size="8.3" text-anchor="middle" textLength="9.70" lengthAdjust="spacingAndGlyphs">24</text>
<line x1="252.40" y1="373.67" x2="252.40" y2="377.67" stroke="#3a3a3a" stroke-width="0.8" />
<text x="252.40" y="385.77" font-size="8.3" text-anchor="middle" textLength="9.70" lengthAdjust="spacingAndGlyphs">48</text>
<line x1="294.36" y1="373.67" x2="294.36" y2="377.67" stroke="#3a3a3a" stroke-width="0.8" />
<text x="294.36" y="385.77" font-size="8.3" text-anchor="middle" textLength="9.70" lengthAdjust="spacingAndGlyphs">72</text>
<text x="255.67" y="227.19" font-size="10.3" text-anchor="middle" textLength="73.60" lengthAdjust="spacingAndGlyphs">CAO4 pdmH1N1</text>
<text x="253.16" y="399.50" font-size="10.3" text-anchor="middle" textLength="23.70" lengthAdjust="spacingAndGlyphs">h.p.i.</text>
<line x1="210.44" y1="276.68" x2="210.44" y2="288.49" stroke="#111" stroke-width="0.85" />
<line x1="207.84" y1="276.68" x2="213.04" y2="276.68" stroke="#111" stroke-width="0.85" />
<line x1="207.84" y1="288.49" x2="213.04" y2="288.49" stroke="#111" stroke-width="0.85" />
<line x1="252.40" y1="272.41" x2="252.40" y2="288.74" stroke="#111" stroke-width="0.85" />
<line x1="249.80" y1="272.41" x2="255.00" y2="272.41" stroke="#111" stroke-width="0.85" />
<line x1="249.80" y1="288.74" x2="255.00" y2="288.74" stroke="#111" stroke-width="0.85" />
<line x1="294.36" y1="285.48" x2="294.36" y2="302.56" stroke="#111" stroke-width="0.85" />
<line x1="291.76" y1="285.48" x2="296.96" y2="285.48" stroke="#111" stroke-width="0.85" />
<line x1="291.76" y1="302.56" x2="296.96" y2="302.56" stroke="#111" stroke-width="0.85" />
<line x1="210.44" y1="317.14" x2="210.44" y2="330.70" stroke="#111" stroke-width="0.85" />
<line x1="207.84" y1="317.14" x2="213.04" y2="317.14" stroke="#111" stroke-width="0.85" />
<line x1="207.84" y1="330.70" x2="213.04" y2="330.70" stroke="#111" stroke-width="0.85" />
<line x1="252.40" y1="318.14" x2="252.40" y2="330.70" stroke="#111" stroke-width="0.85" />
<line x1="249.80" y1="318.14" x2="255.00" y2="318.14" stroke="#111" stroke-width="0.85" />
<line x1="249.80" y1="330.70" x2="255.00" y2="330.70" stroke="#111" stroke-width="0.85" />
<line x1="294.36" y1="322.16" x2="294.36" y2="334.47" stroke="#111" stroke-width="0.85" />
<line x1="291.76" y1="322.16" x2="296.96" y2="322.16" stroke="#111" stroke-width="0.85" />
<line x1="291.76" y1="334.47" x2="296.96" y2="334.47" stroke="#111" stroke-width="0.85" />
<polyline points="210.44,326.18 252.40,326.18 294.36,330.20" fill="none" stroke="#2f6c9c" stroke-width="1.1"/>
<polyline points="210.44,286.73 252.40,279.95 294.36,291.51" fill="none" stroke="#000" stroke-width="1.2"/>
<polyline points="210.44,282.71 252.40,272.41 294.36,278.44" fill="none" stroke="#000" stroke-width="1.2"/>
<path d="M210.44 283.73 L213.44 289.13 L207.44 289.13 Z" fill="#000"/>
<path d="M252.40 276.95 L255.40 282.35 L249.40 282.35 Z" fill="#000"/>
<path d="M294.36 288.51 L297.36 293.91 L291.36 293.91 Z" fill="#000"/>
<rect x="207.79" y="323.53" width="5.3" height="5.3" fill="#66a9d2" stroke="#000" stroke-width="0.9"/>
<rect x="249.75" y="323.53" width="5.3" height="5.3" fill="#66a9d2" stroke="#000" stroke-width="0.9"/>
<rect x="291.71" y="327.55" width="5.3" height="5.3" fill="#66a9d2" stroke="#000" stroke-width="0.9"/>
<circle cx="210.44" cy="282.71" r="2.75" fill="#9b9b9b" stroke="#000" stroke-width="1.0"/>
<circle cx="252.40" cy="272.41" r="2.75" fill="#9b9b9b" stroke="#000" stroke-width="1.0"/>
<circle cx="294.36" cy="278.44" r="2.75" fill="#9b9b9b" stroke="#000" stroke-width="1.0"/>
<text x="192.10" y="267.14" font-size="8.6" textLength="43.47" lengthAdjust="spacingAndGlyphs"><tspan font-style="italic">P</tspan> = 0.0043</text>
<text x="210.44" y="277.72" font-size="9.0" text-anchor="middle" fill="#3b7bb0">**</text>
<text x="233.56" y="255.83" font-size="8.6" textLength="36.93" lengthAdjust="spacingAndGlyphs"><tspan font-style="italic">P</tspan> = 0.001</text>
<text x="252.40" y="270.43" font-size="9.0" text-anchor="middle" fill="#3b7bb0">***</text>
<text x="276.77" y="263.62" font-size="8.6" textLength="37.19" lengthAdjust="spacingAndGlyphs"><tspan font-style="italic">P</tspan> = 0.001</text>
<text x="294.36" y="275.46" font-size="9.0" text-anchor="middle" fill="#3b7bb0">***</text>
<line x1="347.10" y1="248.24" x2="347.10" y2="374.12" stroke="#3a3a3a" stroke-width="0.9" />
<line x1="342.80" y1="373.67" x2="472.70" y2="373.67" stroke="#3a3a3a" stroke-width="0.9" />
<line x1="342.80" y1="373.67" x2="347.10" y2="373.67" stroke="#3a3a3a" stroke-width="0.8" />
<text x="339.90" y="376.61" font-size="8.3" text-anchor="end" textLength="4.85" lengthAdjust="spacingAndGlyphs">2</text>
<line x1="342.80" y1="352.81" x2="347.10" y2="352.81" stroke="#3a3a3a" stroke-width="0.8" />
<text x="339.90" y="355.76" font-size="8.3" text-anchor="end" textLength="4.85" lengthAdjust="spacingAndGlyphs">3</text>
<line x1="342.80" y1="331.96" x2="347.10" y2="331.96" stroke="#3a3a3a" stroke-width="0.8" />
<text x="339.90" y="334.91" font-size="8.3" text-anchor="end" textLength="4.85" lengthAdjust="spacingAndGlyphs">4</text>
<line x1="342.80" y1="311.11" x2="347.10" y2="311.11" stroke="#3a3a3a" stroke-width="0.8" />
<text x="339.90" y="314.05" font-size="8.3" text-anchor="end" textLength="4.85" lengthAdjust="spacingAndGlyphs">5</text>
<line x1="342.80" y1="290.25" x2="347.10" y2="290.25" stroke="#3a3a3a" stroke-width="0.8" />
<text x="339.90" y="293.20" font-size="8.3" text-anchor="end" textLength="4.85" lengthAdjust="spacingAndGlyphs">6</text>
<line x1="342.80" y1="269.40" x2="347.10" y2="269.40" stroke="#3a3a3a" stroke-width="0.8" />
<text x="339.90" y="272.34" font-size="8.3" text-anchor="end" textLength="4.85" lengthAdjust="spacingAndGlyphs">7</text>
<line x1="342.80" y1="248.54" x2="347.10" y2="248.54" stroke="#3a3a3a" stroke-width="0.8" />
<text x="339.90" y="251.49" font-size="8.3" text-anchor="end" textLength="4.85" lengthAdjust="spacingAndGlyphs">8</text>
<line x1="367.94" y1="373.67" x2="367.94" y2="377.67" stroke="#3a3a3a" stroke-width="0.8" />
<text x="367.94" y="385.77" font-size="8.3" text-anchor="middle" textLength="9.70" lengthAdjust="spacingAndGlyphs">24</text>
<line x1="409.90" y1="373.67" x2="409.90" y2="377.67" stroke="#3a3a3a" stroke-width="0.8" />
<text x="409.90" y="385.77" font-size="8.3" text-anchor="middle" textLength="9.70" lengthAdjust="spacingAndGlyphs">48</text>
<line x1="451.86" y1="373.67" x2="451.86" y2="377.67" stroke="#3a3a3a" stroke-width="0.8" />
<text x="451.86" y="385.77" font-size="8.3" text-anchor="middle" textLength="9.70" lengthAdjust="spacingAndGlyphs">72</text>
<text x="419.45" y="227.19" font-size="10.3" text-anchor="middle">HK68 H3N2</text>
<text x="410.65" y="399.50" font-size="10.3" text-anchor="middle" textLength="23.70" lengthAdjust="spacingAndGlyphs">h.p.i.</text>
<line x1="367.94" y1="314.37" x2="367.94" y2="326.93" stroke="#333" stroke-width="0.7" />
<line x1="365.34" y1="314.37" x2="370.54" y2="314.37" stroke="#333" stroke-width="0.7" />
<line x1="365.34" y1="326.93" x2="370.54" y2="326.93" stroke="#333" stroke-width="0.7" />
<line x1="367.94" y1="326.93" x2="367.94" y2="335.73" stroke="#333" stroke-width="0.7" />
<line x1="365.34" y1="326.93" x2="370.54" y2="326.93" stroke="#333" stroke-width="0.7" />
<line x1="365.34" y1="335.73" x2="370.54" y2="335.73" stroke="#333" stroke-width="0.7" />
<line x1="409.90" y1="261.61" x2="409.90" y2="277.44" stroke="#333" stroke-width="0.7" />
<line x1="407.30" y1="261.61" x2="412.50" y2="261.61" stroke="#333" stroke-width="0.7" />
<line x1="407.30" y1="277.44" x2="412.50" y2="277.44" stroke="#333" stroke-width="0.7" />
<line x1="451.86" y1="269.90" x2="451.86" y2="280.45" stroke="#333" stroke-width="0.7" />
<line x1="449.26" y1="269.90" x2="454.46" y2="269.90" stroke="#333" stroke-width="0.7" />
<line x1="449.26" y1="280.45" x2="454.46" y2="280.45" stroke="#333" stroke-width="0.7" />
<line x1="367.94" y1="352.06" x2="367.94" y2="363.87" stroke="#333" stroke-width="0.7" />
<line x1="365.34" y1="352.06" x2="370.54" y2="352.06" stroke="#333" stroke-width="0.7" />
<line x1="365.34" y1="363.87" x2="370.54" y2="363.87" stroke="#333" stroke-width="0.7" />
<line x1="409.90" y1="320.15" x2="409.90" y2="331.96" stroke="#333" stroke-width="0.7" />
<line x1="407.30" y1="320.15" x2="412.50" y2="320.15" stroke="#333" stroke-width="0.7" />
<line x1="407.30" y1="331.96" x2="412.50" y2="331.96" stroke="#333" stroke-width="0.7" />
<line x1="451.86" y1="331.96" x2="451.86" y2="341.51" stroke="#333" stroke-width="0.7" />
<line x1="449.26" y1="331.96" x2="454.46" y2="331.96" stroke="#333" stroke-width="0.7" />
<line x1="449.26" y1="341.51" x2="454.46" y2="341.51" stroke="#333" stroke-width="0.7" />
<polyline points="367.94,355.83 409.90,328.69 451.86,334.97" fill="none" stroke="#2f6c9c" stroke-width="1.1"/>
<polyline points="367.94,330.20 409.90,265.38 451.86,272.91" fill="none" stroke="#000" stroke-width="1.2"/>
<polyline points="367.94,319.15 409.90,256.83 451.86,270.15" fill="none" stroke="#000" stroke-width="1.2"/>
<path d="M367.94 327.20 L370.94 332.60 L364.94 332.60 Z" fill="#000"/>
<path d="M409.90 262.38 L412.90 267.78 L406.90 267.78 Z" fill="#000"/>
<path d="M451.86 269.91 L454.86 275.31 L448.86 275.31 Z" fill="#000"/>
<rect x="365.29" y="353.18" width="5.3" height="5.3" fill="#66a9d2" stroke="#000" stroke-width="0.9"/>
<rect x="407.25" y="326.04" width="5.3" height="5.3" fill="#66a9d2" stroke="#000" stroke-width="0.9"/>
<rect x="449.21" y="332.32" width="5.3" height="5.3" fill="#66a9d2" stroke="#000" stroke-width="0.9"/>
<circle cx="367.94" cy="319.15" r="2.75" fill="#9b9b9b" stroke="#000" stroke-width="1.0"/>
<circle cx="409.90" cy="256.83" r="2.75" fill="#9b9b9b" stroke="#000" stroke-width="1.0"/>
<circle cx="451.86" cy="270.15" r="2.75" fill="#9b9b9b" stroke="#000" stroke-width="1.0"/>
<text x="348.84" y="286.48" font-size="8.6" textLength="40.70" lengthAdjust="spacingAndGlyphs"><tspan font-style="italic">P</tspan> = 0.0216</text>
<text x="367.69" y="311.14" font-size="9.0" text-anchor="middle" fill="#3b7bb0">*</text>
<text x="392.81" y="239.75" font-size="8.6" textLength="42.71" lengthAdjust="spacingAndGlyphs"><tspan font-style="italic">P</tspan> &lt; 0.0001</text>
<text x="409.90" y="252.59" font-size="9.0" text-anchor="middle" fill="#3b7bb0">****</text>
<text x="435.03" y="252.06" font-size="8.6" textLength="44.47" lengthAdjust="spacingAndGlyphs"><tspan font-style="italic">P</tspan> = 0.0005</text>
<text x="451.86" y="267.17" font-size="9.0" text-anchor="middle" fill="#3b7bb0">***</text>
<line x1="507.60" y1="267.59" x2="507.60" y2="374.87" stroke="#3a3a3a" stroke-width="0.9" />
<line x1="503.30" y1="374.42" x2="632.70" y2="374.42" stroke="#3a3a3a" stroke-width="0.9" />
<line x1="503.30" y1="374.42" x2="507.60" y2="374.42" stroke="#3a3a3a" stroke-width="0.8" />
<text x="500.40" y="377.37" font-size="8.3" text-anchor="end" textLength="4.85" lengthAdjust="spacingAndGlyphs">2</text>
<line x1="503.30" y1="338.91" x2="507.60" y2="338.91" stroke="#3a3a3a" stroke-width="0.8" />
<text x="500.40" y="341.86" font-size="8.3" text-anchor="end" textLength="4.85" lengthAdjust="spacingAndGlyphs">3</text>
<line x1="503.30" y1="303.40" x2="507.60" y2="303.40" stroke="#3a3a3a" stroke-width="0.8" />
<text x="500.40" y="306.35" font-size="8.3" text-anchor="end" textLength="4.85" lengthAdjust="spacingAndGlyphs">4</text>
<line x1="503.30" y1="267.89" x2="507.60" y2="267.89" stroke="#3a3a3a" stroke-width="0.8" />
<text x="500.40" y="270.84" font-size="8.3" text-anchor="end" textLength="4.85" lengthAdjust="spacingAndGlyphs">5</text>
<line x1="528.19" y1="374.42" x2="528.19" y2="378.42" stroke="#3a3a3a" stroke-width="0.8" />
<text x="528.19" y="386.52" font-size="8.3" text-anchor="middle" textLength="9.70" lengthAdjust="spacingAndGlyphs">24</text>
<line x1="569.90" y1="374.42" x2="569.90" y2="378.42" stroke="#3a3a3a" stroke-width="0.8" />
<text x="569.90" y="386.52" font-size="8.3" text-anchor="middle" textLength="9.70" lengthAdjust="spacingAndGlyphs">48</text>
<line x1="611.86" y1="374.42" x2="611.86" y2="378.42" stroke="#3a3a3a" stroke-width="0.8" />
<text x="611.86" y="386.52" font-size="8.3" text-anchor="middle" textLength="9.70" lengthAdjust="spacingAndGlyphs">72</text>
<text x="507.90" y="224.67" font-size="10.3" textLength="32.80" lengthAdjust="spacingAndGlyphs">G1_PB2</text>
<text x="541.20" y="227.17" font-size="7" textLength="20.30" lengthAdjust="spacingAndGlyphs">E627K</text>
<text x="564.50" y="224.67" font-size="10.3" textLength="25.70" lengthAdjust="spacingAndGlyphs">H9N2</text>
<text x="569.90" y="399.50" font-size="10.3" text-anchor="middle" textLength="23.70" lengthAdjust="spacingAndGlyphs">h.p.i.</text>
<line x1="528.19" y1="285.48" x2="528.19" y2="329.45" stroke="#666" stroke-width="0.7" />
<line x1="525.59" y1="285.48" x2="530.79" y2="285.48" stroke="#666" stroke-width="0.7" />
<line x1="525.59" y1="329.45" x2="530.79" y2="329.45" stroke="#666" stroke-width="0.7" />
<line x1="569.90" y1="279.20" x2="569.90" y2="295.53" stroke="#666" stroke-width="0.7" />
<line x1="567.30" y1="279.20" x2="572.50" y2="279.20" stroke="#666" stroke-width="0.7" />
<line x1="567.30" y1="295.53" x2="572.50" y2="295.53" stroke="#666" stroke-width="0.7" />
<line x1="611.86" y1="284.97" x2="611.86" y2="304.82" stroke="#666" stroke-width="0.7" />
<line x1="609.26" y1="284.97" x2="614.46" y2="284.97" stroke="#666" stroke-width="0.7" />
<line x1="609.26" y1="304.82" x2="614.46" y2="304.82" stroke="#666" stroke-width="0.7" />
<line x1="569.90" y1="300.55" x2="569.90" y2="311.86" stroke="#666" stroke-width="0.7" />
<line x1="567.30" y1="300.55" x2="572.50" y2="300.55" stroke="#666" stroke-width="0.7" />
<line x1="567.30" y1="311.86" x2="572.50" y2="311.86" stroke="#666" stroke-width="0.7" />
<line x1="611.86" y1="316.38" x2="611.86" y2="336.98" stroke="#666" stroke-width="0.7" />
<line x1="609.26" y1="316.38" x2="614.46" y2="316.38" stroke="#666" stroke-width="0.7" />
<line x1="609.26" y1="336.98" x2="614.46" y2="336.98" stroke="#666" stroke-width="0.7" />
<line x1="528.19" y1="322.66" x2="528.19" y2="330.20" stroke="#666" stroke-width="0.7" />
<line x1="525.59" y1="322.66" x2="530.79" y2="322.66" stroke="#666" stroke-width="0.7" />
<line x1="525.59" y1="330.20" x2="530.79" y2="330.20" stroke="#666" stroke-width="0.7" />
<polyline points="528.19,325.68 569.90,305.33 611.86,323.92" fill="none" stroke="#2f6c9c" stroke-width="1.1"/>
<polyline points="528.19,296.78 569.90,292.51 611.86,297.04" fill="none" stroke="#000" stroke-width="1.2"/>
<polyline points="528.19,290.25 569.90,288.24 611.86,289.25" fill="none" stroke="#000" stroke-width="1.2"/>
<path d="M528.19 293.78 L531.19 299.18 L525.19 299.18 Z" fill="#000"/>
<path d="M569.90 289.51 L572.90 294.91 L566.90 294.91 Z" fill="#000"/>
<path d="M611.86 294.04 L614.86 299.44 L608.86 299.44 Z" fill="#000"/>
<rect x="525.54" y="323.03" width="5.3" height="5.3" fill="#66a9d2" stroke="#000" stroke-width="0.9"/>
<rect x="567.25" y="302.68" width="5.3" height="5.3" fill="#66a9d2" stroke="#000" stroke-width="0.9"/>
<rect x="609.21" y="321.27" width="5.3" height="5.3" fill="#66a9d2" stroke="#000" stroke-width="0.9"/>
<circle cx="528.19" cy="290.25" r="2.75" fill="#9b9b9b" stroke="#000" stroke-width="1.0"/>
<circle cx="569.90" cy="288.24" r="2.75" fill="#9b9b9b" stroke="#000" stroke-width="1.0"/>
<circle cx="611.86" cy="289.25" r="2.75" fill="#9b9b9b" stroke="#000" stroke-width="1.0"/>
<text x="509.60" y="272.16" font-size="8.6" textLength="43.22" lengthAdjust="spacingAndGlyphs"><tspan font-style="italic">P</tspan> = 0.0052</text>
<text x="528.19" y="285.51" font-size="9.0" text-anchor="middle" fill="#3b7bb0">**</text>
<text x="552.06" y="263.62" font-size="8.6" textLength="40.20" lengthAdjust="spacingAndGlyphs"><tspan font-style="italic">P</tspan> = 0.2168</text>
<text x="570.40" y="276.68" font-size="8.5" text-anchor="middle" fill="#3b7bb0">NS</text>
<text x="593.52" y="270.90" font-size="8.6" textLength="44.22" lengthAdjust="spacingAndGlyphs"><tspan font-style="italic">P</tspan> = 0.0009</text>
<text x="611.11" y="286.01" font-size="9.0" text-anchor="middle" fill="#3b7bb0">***</text>
<text x="0.50" y="421.30" font-size="15.5" fill="#000" font-weight="bold" stroke="#000" stroke-width="0.55">c</text>
<rect x="40.70" y="562.51" width="14.07" height="22.89" fill="#dde3f2" stroke="#999" stroke-width="0.6"/>
<line x1="47.74" y1="555.47" x2="47.74" y2="565.08" stroke="#777" stroke-width="0.75" />
<line x1="44.54" y1="555.47" x2="50.94" y2="555.47" stroke="#777" stroke-width="0.75" />
<line x1="44.54" y1="565.08" x2="50.94" y2="565.08" stroke="#777" stroke-width="0.75" />
<clipPath id="h1"><rect x="61.56" y="514.77" width="13.82" height="70.63"/></clipPath>
<rect x="61.56" y="514.77" width="13.82" height="70.63" fill="#fff"/>
<path clip-path="url(#h1)" d="M60.6 599.1L76.4 585.9M60.6 595.0L76.4 581.8M60.6 590.9L76.4 577.7M60.6 586.8L76.4 573.6M60.6 582.7L76.4 569.5M60.6 578.6L76.4 565.4M60.6 574.5L76.4 561.3M60.6 570.4L76.4 557.2M60.6 566.3L76.4 553.1M60.6 562.2L76.4 549.0M60.6 558.1L76.4 544.9M60.6 554.0L76.4 540.8M60.6 549.9L76.4 536.7M60.6 545.8L76.4 532.6M60.6 541.7L76.4 528.5M60.6 537.6L76.4 524.4M60.6 533.5L76.4 520.3M60.6 529.4L76.4 516.2M60.6 525.3L76.4 512.1M60.6 521.2L76.4 508.0M60.6 517.1L76.4 503.9" stroke="#3f6b67" stroke-width="1.70" fill="none"/>
<rect x="61.56" y="514.77" width="13.82" height="70.63" fill="none" stroke="#444" stroke-width="0.6"/>
<line x1="68.47" y1="484.55" x2="68.47" y2="539.12" stroke="#777" stroke-width="0.75" />
<line x1="65.27" y1="484.55" x2="71.67" y2="484.55" stroke="#777" stroke-width="0.75" />
<line x1="65.27" y1="539.12" x2="71.67" y2="539.12" stroke="#777" stroke-width="0.75" />
<clipPath id="h2"><rect x="82.41" y="508.49" width="13.82" height="76.91"/></clipPath>
<rect x="82.41" y="508.49" width="13.82" height="76.91" fill="#fff"/>
<path clip-path="url(#h2)" d="M81.4 600.4L97.2 587.2M81.4 596.3L97.2 583.1M81.4 592.2L97.2 579.0M81.4 588.1L97.2 574.9M81.4 584.0L97.2 570.8M81.4 579.9L97.2 566.7M81.4 575.8L97.2 562.6M81.4 571.7L97.2 558.5M81.4 567.6L97.2 554.4M81.4 563.5L97.2 550.3M81.4 559.4L97.2 546.2M81.4 555.3L97.2 542.1M81.4 551.2L97.2 538.0M81.4 547.1L97.2 533.9M81.4 543.0L97.2 529.8M81.4 538.9L97.2 525.7M81.4 534.8L97.2 521.6M81.4 530.7L97.2 517.5M81.4 526.6L97.2 513.4M81.4 522.5L97.2 509.3M81.4 518.4L97.2 505.2M81.4 514.3L97.2 501.1M81.4 510.2L97.2 497.0" stroke="#66a9d2" stroke-width="1.70" fill="none"/>
<rect x="82.41" y="508.49" width="13.82" height="76.91" fill="none" stroke="#444" stroke-width="0.6"/>
<line x1="89.32" y1="488.44" x2="89.32" y2="525.84" stroke="#777" stroke-width="0.75" />
<line x1="86.12" y1="488.44" x2="92.52" y2="488.44" stroke="#777" stroke-width="0.75" />
<line x1="86.12" y1="525.84" x2="92.52" y2="525.84" stroke="#777" stroke-width="0.75" />
<rect x="103.27" y="508.49" width="13.82" height="76.91" fill="#66a9d2" stroke="#444" stroke-width="0.6"/>
<line x1="110.18" y1="498.25" x2="110.18" y2="519.30" stroke="#777" stroke-width="0.75" />
<line x1="106.98" y1="498.25" x2="113.38" y2="498.25" stroke="#777" stroke-width="0.75" />
<line x1="106.98" y1="519.30" x2="113.38" y2="519.30" stroke="#777" stroke-width="0.75" />
<rect x="124.12" y="572.81" width="13.82" height="12.59" fill="#3f6b67" stroke="#444" stroke-width="0.6"/>
<line x1="131.03" y1="569.98" x2="131.03" y2="574.89" stroke="#777" stroke-width="0.75" />
<line x1="127.83" y1="569.98" x2="134.23" y2="569.98" stroke="#777" stroke-width="0.75" />
<line x1="127.83" y1="574.89" x2="134.23" y2="574.89" stroke="#777" stroke-width="0.75" />
<rect x="144.97" y="577.84" width="13.82" height="7.56" fill="#c5dcf6" stroke="#444" stroke-width="0.6"/>
<line x1="151.88" y1="573.86" x2="151.88" y2="578.57" stroke="#777" stroke-width="0.75" />
<line x1="148.68" y1="573.86" x2="155.08" y2="573.86" stroke="#777" stroke-width="0.75" />
<line x1="148.68" y1="578.57" x2="155.08" y2="578.57" stroke="#777" stroke-width="0.75" />
<line x1="33.40" y1="469.50" x2="33.40" y2="585.80" stroke="#777" stroke-width="0.8" />
<line x1="29.10" y1="585.40" x2="165.00" y2="585.40" stroke="#777" stroke-width="0.8" />
<line x1="29.10" y1="585.40" x2="33.40" y2="585.40" stroke="#777" stroke-width="0.8" />
<text x="26.20" y="588.70" font-size="9.3" text-anchor="end" textLength="5.50" lengthAdjust="spacingAndGlyphs">0</text>
<line x1="29.10" y1="546.87" x2="33.40" y2="546.87" stroke="#777" stroke-width="0.8" />
<text x="26.20" y="550.17" font-size="9.3" text-anchor="end" textLength="11.00" lengthAdjust="spacingAndGlyphs">10</text>
<line x1="29.10" y1="508.33" x2="33.40" y2="508.33" stroke="#777" stroke-width="0.8" />
<text x="26.20" y="511.63" font-size="9.3" text-anchor="end" textLength="11.00" lengthAdjust="spacingAndGlyphs">20</text>
<line x1="29.10" y1="469.80" x2="33.40" y2="469.80" stroke="#777" stroke-width="0.8" />
<text x="26.20" y="473.10" font-size="9.3" text-anchor="end" textLength="11.00" lengthAdjust="spacingAndGlyphs">30</text>
<line x1="47.74" y1="585.40" x2="47.74" y2="589.40" stroke="#777" stroke-width="0.8" />
<line x1="68.47" y1="585.40" x2="68.47" y2="589.40" stroke="#777" stroke-width="0.8" />
<line x1="89.32" y1="585.40" x2="89.32" y2="589.40" stroke="#777" stroke-width="0.8" />
<line x1="110.18" y1="585.40" x2="110.18" y2="589.40" stroke="#777" stroke-width="0.8" />
<line x1="131.03" y1="585.40" x2="131.03" y2="589.40" stroke="#777" stroke-width="0.8" />
<line x1="151.88" y1="585.40" x2="151.88" y2="589.40" stroke="#777" stroke-width="0.8" />
<circle cx="47.58" cy="549.75" r="2.1" fill="none" stroke="#000" stroke-width="1.3"/>
<circle cx="42.67" cy="561.60" r="2.1" fill="none" stroke="#000" stroke-width="1.3"/>
<circle cx="48.80" cy="558.54" r="2.1" fill="none" stroke="#000" stroke-width="1.3"/>
<circle cx="45.33" cy="563.24" r="2.1" fill="none" stroke="#000" stroke-width="1.3"/>
<circle cx="52.07" cy="564.26" r="2.1" fill="none" stroke="#000" stroke-width="1.3"/>
<circle cx="42.67" cy="566.10" r="2.1" fill="none" stroke="#000" stroke-width="1.3"/>
<circle cx="48.39" cy="565.08" r="2.1" fill="none" stroke="#000" stroke-width="1.3"/>
<circle cx="68.22" cy="484.55" r="2.1" fill="none" stroke="#000" stroke-width="1.3"/>
<circle cx="68.22" cy="520.32" r="2.1" fill="none" stroke="#000" stroke-width="1.3"/>
<circle cx="68.22" cy="539.12" r="2.1" fill="none" stroke="#000" stroke-width="1.3"/>
<circle cx="89.27" cy="483.33" r="2.1" fill="none" stroke="#000" stroke-width="1.3"/>
<circle cx="89.27" cy="503.97" r="2.1" fill="none" stroke="#000" stroke-width="1.3"/>
<circle cx="89.27" cy="516.84" r="2.1" fill="none" stroke="#000" stroke-width="1.3"/>
<circle cx="89.27" cy="528.49" r="2.1" fill="none" stroke="#000" stroke-width="1.3"/>
<circle cx="109.91" cy="494.36" r="2.1" fill="none" stroke="#000" stroke-width="1.3"/>
<circle cx="105.41" cy="506.42" r="2.1" fill="none" stroke="#000" stroke-width="1.3"/>
<circle cx="114.61" cy="509.49" r="2.1" fill="none" stroke="#000" stroke-width="1.3"/>
<circle cx="109.91" cy="521.95" r="2.1" fill="none" stroke="#000" stroke-width="1.3"/>
<circle cx="126.06" cy="569.37" r="2.1" fill="none" stroke="#000" stroke-width="1.3"/>
<circle cx="130.55" cy="570.39" r="2.1" fill="none" stroke="#000" stroke-width="1.3"/>
<circle cx="135.25" cy="573.25" r="2.1" fill="none" stroke="#000" stroke-width="1.3"/>
<circle cx="126.06" cy="574.89" r="2.1" fill="none" stroke="#000" stroke-width="1.3"/>
<circle cx="146.90" cy="578.57" r="2.1" fill="none" stroke="#000" stroke-width="1.3"/>
<circle cx="151.40" cy="575.30" r="2.1" fill="none" stroke="#000" stroke-width="1.3"/>
<circle cx="156.30" cy="573.46" r="2.1" fill="none" stroke="#000" stroke-width="1.3"/>
<circle cx="156.30" cy="577.34" r="2.1" fill="none" stroke="#000" stroke-width="1.3"/>
<g transform="translate(53.74 598.20) rotate(-45)" font-size="10.2">
<text x="0" y="0" text-anchor="end">Ctrl</text>
</g>
<g transform="translate(74.47 598.20) rotate(-45)" font-size="10.2">
<text x="-9.60" y="-3.4" font-size="7.8" font-style="italic" textLength="9.6" lengthAdjust="spacingAndGlyphs">−/−</text>
<text x="-40.40" y="0" font-style="italic" textLength="30.5" lengthAdjust="spacingAndGlyphs">STAT1</text>
</g>
<g transform="translate(95.32 598.20) rotate(-45)" font-size="10.2">
<text x="-9.60" y="-3.4" font-size="7.8" font-style="italic" textLength="9.6" lengthAdjust="spacingAndGlyphs">−/−</text>
<text x="-46.40" y="0" font-style="italic" textLength="36.5" lengthAdjust="spacingAndGlyphs">GALNT2</text>
</g>
<g transform="translate(116.18 598.20) rotate(-45)" font-size="10.2">
<text x="-29.50" y="0" textLength="29.5" lengthAdjust="spacingAndGlyphs">-eGFP</text>
<text x="-41.40" y="-3.4" font-size="7.8" font-style="italic" textLength="9.6" lengthAdjust="spacingAndGlyphs">−/−</text>
<text x="-78.20" y="0" font-style="italic" textLength="36.5" lengthAdjust="spacingAndGlyphs">GALNT2</text>
</g>
<g transform="translate(137.03 598.20) rotate(-45)" font-size="10.2">
<text x="-42.00" y="0" textLength="42.0" lengthAdjust="spacingAndGlyphs">-GALNT2</text>
<text x="-53.90" y="-3.4" font-size="7.8" font-style="italic" textLength="9.6" lengthAdjust="spacingAndGlyphs">−/−</text>
<text x="-84.70" y="0" font-style="italic" textLength="30.5" lengthAdjust="spacingAndGlyphs">STAT1</text>
</g>
<g transform="translate(157.88 598.20) rotate(-45)" font-size="10.2">
<text x="-42.00" y="0" textLength="42.0" lengthAdjust="spacingAndGlyphs">-GALNT2</text>
<text x="-53.90" y="-3.4" font-size="7.8" font-style="italic" textLength="9.6" lengthAdjust="spacingAndGlyphs">−/−</text>
<text x="-90.70" y="0" font-style="italic" textLength="36.5" lengthAdjust="spacingAndGlyphs">GALNT2</text>
</g>
<text x="9.40" y="527.30" font-size="10.4" text-anchor="middle" textLength="81.50" lengthAdjust="spacingAndGlyphs" transform="rotate(-90 9.40 527.30)">Infected cells (%)</text>
<text x="99.20" y="430.20" font-size="10.3" text-anchor="middle" textLength="57.80" lengthAdjust="spacingAndGlyphs">SARS-CoV-2</text>
<text x="63.30" y="445.55" font-size="9" text-anchor="middle">****</text>
<text x="75.90" y="442.70" font-size="8.6" textLength="42.20" lengthAdjust="spacingAndGlyphs"><tspan font-style="italic">P</tspan> &lt; 0.0001</text>
<line x1="43.20" y1="448.50" x2="86.70" y2="448.50" stroke="#444" stroke-width="0.8" />
<text x="100.10" y="458.45" font-size="9" text-anchor="middle">**</text>
<text x="109.70" y="456.00" font-size="8.6" textLength="42.50" lengthAdjust="spacingAndGlyphs"><tspan font-style="italic">P</tspan> = 0.0078</text>
<line x1="66.40" y1="459.80" x2="135.30" y2="459.80" stroke="#444" stroke-width="0.8" />
<text x="45.30" y="469.00" font-size="8.6" textLength="40.90" lengthAdjust="spacingAndGlyphs"><tspan font-style="italic">P</tspan> = 0.0017</text>
<text x="54.50" y="476.85" font-size="9" text-anchor="middle">**</text>
<line x1="45.30" y1="479.30" x2="66.80" y2="479.30" stroke="#444" stroke-width="0.8" />
<text x="117.30" y="474.85" font-size="9" text-anchor="middle">***</text>
<text x="128.50" y="472.10" font-size="8.6" textLength="42.50" lengthAdjust="spacingAndGlyphs"><tspan font-style="italic">P</tspan> = 0.0004</text>
<line x1="82.10" y1="477.40" x2="155.70" y2="477.40" stroke="#444" stroke-width="0.8" />
<rect x="204.70" y="560.00" width="18.09" height="25.40" fill="#dde3f2" stroke="#444" stroke-width="0.6"/>
<line x1="213.74" y1="555.23" x2="213.74" y2="560.75" stroke="#111" stroke-width="0.75" />
<line x1="210.54" y1="555.23" x2="216.94" y2="555.23" stroke="#111" stroke-width="0.75" />
<line x1="210.54" y1="560.75" x2="216.94" y2="560.75" stroke="#111" stroke-width="0.75" />
<clipPath id="h3"><rect x="231.58" y="492.16" width="18.09" height="93.24"/></clipPath>
<rect x="231.58" y="492.16" width="18.09" height="93.24" fill="#fff"/>
<path clip-path="url(#h3)" d="M230.6 605.3L250.7 588.5M230.6 600.6L250.7 583.8M230.6 595.9L250.7 579.1M230.6 591.3L250.7 574.4M230.6 586.6L250.7 569.7M230.6 581.9L250.7 565.0M230.6 577.2L250.7 560.3M230.6 572.5L250.7 555.7M230.6 567.8L250.7 551.0M230.6 563.1L250.7 546.3M230.6 558.5L250.7 541.6M230.6 553.8L250.7 536.9M230.6 549.1L250.7 532.2M230.6 544.4L250.7 527.5M230.6 539.7L250.7 522.9M230.6 535.0L250.7 518.2M230.6 530.3L250.7 513.5M230.6 525.7L250.7 508.8M230.6 521.0L250.7 504.1M230.6 516.3L250.7 499.4M230.6 511.6L250.7 494.7M230.6 506.9L250.7 490.1M230.6 502.2L250.7 485.4M230.6 497.5L250.7 480.7M230.6 492.9L250.7 476.0" stroke="#66a9d2" stroke-width="1.94" fill="none"/>
<rect x="231.58" y="492.16" width="18.09" height="93.24" fill="none" stroke="#444" stroke-width="0.6"/>
<line x1="240.63" y1="487.89" x2="240.63" y2="496.18" stroke="#111" stroke-width="0.75" />
<line x1="237.43" y1="487.89" x2="243.83" y2="487.89" stroke="#111" stroke-width="0.75" />
<line x1="237.43" y1="496.18" x2="243.83" y2="496.18" stroke="#111" stroke-width="0.75" />
<rect x="258.22" y="504.22" width="18.09" height="81.18" fill="#66a9d2" stroke="#444" stroke-width="0.6"/>
<line x1="267.26" y1="500.95" x2="267.26" y2="508.49" stroke="#111" stroke-width="0.75" />
<line x1="264.06" y1="500.95" x2="270.46" y2="500.95" stroke="#111" stroke-width="0.75" />
<line x1="264.06" y1="508.49" x2="270.46" y2="508.49" stroke="#111" stroke-width="0.75" />
<rect x="285.10" y="535.13" width="18.09" height="50.27" fill="#c5dcf6" stroke="#444" stroke-width="0.6"/>
<line x1="294.15" y1="530.60" x2="294.15" y2="540.15" stroke="#111" stroke-width="0.75" />
<line x1="290.95" y1="530.60" x2="297.35" y2="530.60" stroke="#111" stroke-width="0.75" />
<line x1="290.95" y1="540.15" x2="297.35" y2="540.15" stroke="#111" stroke-width="0.75" />
<line x1="195.90" y1="470.00" x2="195.90" y2="585.80" stroke="#777" stroke-width="0.8" />
<line x1="191.60" y1="585.40" x2="309.50" y2="585.40" stroke="#777" stroke-width="0.8" />
<line x1="191.60" y1="585.40" x2="195.90" y2="585.40" stroke="#777" stroke-width="0.8" />
<text x="188.70" y="588.70" font-size="9.3" text-anchor="end" textLength="5.50" lengthAdjust="spacingAndGlyphs">0</text>
<line x1="191.60" y1="556.62" x2="195.90" y2="556.62" stroke="#777" stroke-width="0.8" />
<text x="188.70" y="559.93" font-size="9.3" text-anchor="end" textLength="11.00" lengthAdjust="spacingAndGlyphs">10</text>
<line x1="191.60" y1="527.85" x2="195.90" y2="527.85" stroke="#777" stroke-width="0.8" />
<text x="188.70" y="531.15" font-size="9.3" text-anchor="end" textLength="11.00" lengthAdjust="spacingAndGlyphs">20</text>
<line x1="191.60" y1="499.07" x2="195.90" y2="499.07" stroke="#777" stroke-width="0.8" />
<text x="188.70" y="502.38" font-size="9.3" text-anchor="end" textLength="11.00" lengthAdjust="spacingAndGlyphs">30</text>
<line x1="191.60" y1="470.30" x2="195.90" y2="470.30" stroke="#777" stroke-width="0.8" />
<text x="188.70" y="473.60" font-size="9.3" text-anchor="end" textLength="11.00" lengthAdjust="spacingAndGlyphs">40</text>
<line x1="213.74" y1="585.40" x2="213.74" y2="589.40" stroke="#777" stroke-width="0.8" />
<line x1="240.63" y1="585.40" x2="240.63" y2="589.40" stroke="#777" stroke-width="0.8" />
<line x1="267.26" y1="585.40" x2="267.26" y2="589.40" stroke="#777" stroke-width="0.8" />
<line x1="294.15" y1="585.40" x2="294.15" y2="589.40" stroke="#777" stroke-width="0.8" />
<circle cx="207.71" cy="558.99" r="2.4" fill="none" stroke="#000" stroke-width="1.3"/>
<circle cx="210.73" cy="557.49" r="2.4" fill="none" stroke="#000" stroke-width="1.3"/>
<circle cx="216.76" cy="553.72" r="2.4" fill="none" stroke="#000" stroke-width="1.3"/>
<circle cx="213.74" cy="559.50" r="2.4" fill="none" stroke="#000" stroke-width="1.3"/>
<circle cx="219.77" cy="559.50" r="2.4" fill="none" stroke="#000" stroke-width="1.3"/>
<circle cx="215.25" cy="558.24" r="2.4" fill="none" stroke="#000" stroke-width="1.3"/>
<circle cx="234.10" cy="489.15" r="2.4" fill="none" stroke="#000" stroke-width="1.3"/>
<circle cx="246.91" cy="490.90" r="2.4" fill="none" stroke="#000" stroke-width="1.3"/>
<circle cx="240.63" cy="497.44" r="2.4" fill="none" stroke="#000" stroke-width="1.3"/>
<circle cx="267.26" cy="498.69" r="2.4" fill="none" stroke="#000" stroke-width="1.3"/>
<circle cx="260.98" cy="507.49" r="2.4" fill="none" stroke="#000" stroke-width="1.3"/>
<circle cx="273.54" cy="505.23" r="2.4" fill="none" stroke="#000" stroke-width="1.3"/>
<circle cx="294.15" cy="528.59" r="2.4" fill="none" stroke="#000" stroke-width="1.3"/>
<circle cx="287.61" cy="539.40" r="2.4" fill="none" stroke="#000" stroke-width="1.3"/>
<circle cx="300.43" cy="537.39" r="2.4" fill="none" stroke="#000" stroke-width="1.3"/>
<g transform="translate(219.74 598.20) rotate(-45)" font-size="10.2">
<text x="0" y="0" text-anchor="end">Ctrl</text>
</g>
<g transform="translate(246.63 598.20) rotate(-45)" font-size="10.2">
<text x="-9.60" y="-3.4" font-size="7.8" font-style="italic" textLength="9.6" lengthAdjust="spacingAndGlyphs">−/−</text>
<text x="-46.40" y="0" font-style="italic" textLength="36.5" lengthAdjust="spacingAndGlyphs">GALNT2</text>
</g>
<g transform="translate(273.26 598.20) rotate(-45)" font-size="10.2">
<text x="-29.50" y="0" textLength="29.5" lengthAdjust="spacingAndGlyphs">-eGFP</text>
<text x="-41.40" y="-3.4" font-size="7.8" font-style="italic" textLength="9.6" lengthAdjust="spacingAndGlyphs">−/−</text>
<text x="-78.20" y="0" font-style="italic" textLength="36.5" lengthAdjust="spacingAndGlyphs">GALNT2</text>
</g>
<g transform="translate(300.15 598.20) rotate(-45)" font-size="10.2">
<text x="-42.00" y="0" textLength="42.0" lengthAdjust="spacingAndGlyphs">-GALNT2</text>
<text x="-53.90" y="-3.4" font-size="7.8" font-style="italic" textLength="9.6" lengthAdjust="spacingAndGlyphs">−/−</text>
<text x="-90.70" y="0" font-style="italic" textLength="36.5" lengthAdjust="spacingAndGlyphs">GALNT2</text>
</g>
<text x="244.90" y="430.60" font-size="10.3" text-anchor="middle">HCoV-OC43</text>
<text x="198.42" y="465.78" font-size="8.6" textLength="41.96" lengthAdjust="spacingAndGlyphs"><tspan font-style="italic">P</tspan> &lt; 0.0001</text>
<text x="227.06" y="480.78" font-size="9" text-anchor="middle">****</text>
<line x1="211.98" y1="483.37" x2="242.89" y2="483.37" stroke="#444" stroke-width="0.8" />
<text x="244.15" y="451.46" font-size="8.6" textLength="43.97" lengthAdjust="spacingAndGlyphs"><tspan font-style="italic">P</tspan> = 0.0005</text>
<text x="266.51" y="466.46" font-size="9" text-anchor="middle">***</text>
<line x1="235.35" y1="469.55" x2="300.68" y2="469.55" stroke="#444" stroke-width="0.8" />
<rect x="341.91" y="531.61" width="17.84" height="53.79" fill="#dde3f2" stroke="#444" stroke-width="0.6"/>
<line x1="350.83" y1="524.32" x2="350.83" y2="539.40" stroke="#111" stroke-width="0.75" />
<line x1="347.63" y1="524.32" x2="354.03" y2="524.32" stroke="#111" stroke-width="0.75" />
<line x1="347.63" y1="539.40" x2="354.03" y2="539.40" stroke="#111" stroke-width="0.75" />
<clipPath id="h4"><rect x="368.54" y="498.44" width="18.09" height="86.96"/></clipPath>
<rect x="368.54" y="498.44" width="18.09" height="86.96" fill="#fff"/>
<path clip-path="url(#h4)" d="M367.5 601.9L387.6 585.1M367.5 597.2L387.6 580.4M367.5 592.6L387.6 575.7M367.5 587.9L387.6 571.0M367.5 583.2L387.6 566.3M367.5 578.5L387.6 561.6M367.5 573.8L387.6 557.0M367.5 569.1L387.6 552.3M367.5 564.4L387.6 547.6M367.5 559.8L387.6 542.9M367.5 555.1L387.6 538.2M367.5 550.4L387.6 533.5M367.5 545.7L387.6 528.8M367.5 541.0L387.6 524.2M367.5 536.3L387.6 519.5M367.5 531.6L387.6 514.8M367.5 527.0L387.6 510.1M367.5 522.3L387.6 505.4M367.5 517.6L387.6 500.7M367.5 512.9L387.6 496.0M367.5 508.2L387.6 491.4M367.5 503.5L387.6 486.7M367.5 498.8L387.6 482.0" stroke="#66a9d2" stroke-width="1.94" fill="none"/>
<rect x="368.54" y="498.44" width="18.09" height="86.96" fill="none" stroke="#444" stroke-width="0.6"/>
<line x1="377.59" y1="496.18" x2="377.59" y2="504.97" stroke="#111" stroke-width="0.75" />
<line x1="374.39" y1="496.18" x2="380.79" y2="496.18" stroke="#111" stroke-width="0.75" />
<line x1="374.39" y1="504.97" x2="380.79" y2="504.97" stroke="#111" stroke-width="0.75" />
<rect x="395.18" y="492.91" width="18.09" height="92.49" fill="#66a9d2" stroke="#444" stroke-width="0.6"/>
<line x1="404.22" y1="484.62" x2="404.22" y2="501.71" stroke="#111" stroke-width="0.75" />
<line x1="401.02" y1="484.62" x2="407.42" y2="484.62" stroke="#111" stroke-width="0.75" />
<line x1="401.02" y1="501.71" x2="407.42" y2="501.71" stroke="#111" stroke-width="0.75" />
<rect x="421.81" y="560.75" width="18.09" height="24.65" fill="#c5dcf6" stroke="#444" stroke-width="0.6"/>
<line x1="430.85" y1="556.48" x2="430.85" y2="562.51" stroke="#111" stroke-width="0.75" />
<line x1="427.65" y1="556.48" x2="434.05" y2="556.48" stroke="#111" stroke-width="0.75" />
<line x1="427.65" y1="562.51" x2="434.05" y2="562.51" stroke="#111" stroke-width="0.75" />
<line x1="333.10" y1="470.00" x2="333.10" y2="585.80" stroke="#777" stroke-width="0.8" />
<line x1="328.80" y1="585.40" x2="448.20" y2="585.40" stroke="#777" stroke-width="0.8" />
<line x1="328.80" y1="585.40" x2="333.10" y2="585.40" stroke="#777" stroke-width="0.8" />
<text x="325.90" y="588.70" font-size="9.3" text-anchor="end" textLength="5.50" lengthAdjust="spacingAndGlyphs">0</text>
<line x1="328.80" y1="556.62" x2="333.10" y2="556.62" stroke="#777" stroke-width="0.8" />
<text x="325.90" y="559.93" font-size="9.3" text-anchor="end" textLength="5.50" lengthAdjust="spacingAndGlyphs">5</text>
<line x1="328.80" y1="527.85" x2="333.10" y2="527.85" stroke="#777" stroke-width="0.8" />
<text x="325.90" y="531.15" font-size="9.3" text-anchor="end" textLength="11.00" lengthAdjust="spacingAndGlyphs">10</text>
<line x1="328.80" y1="499.07" x2="333.10" y2="499.07" stroke="#777" stroke-width="0.8" />
<text x="325.90" y="502.38" font-size="9.3" text-anchor="end" textLength="11.00" lengthAdjust="spacingAndGlyphs">15</text>
<line x1="328.80" y1="470.30" x2="333.10" y2="470.30" stroke="#777" stroke-width="0.8" />
<text x="325.90" y="473.60" font-size="9.3" text-anchor="end" textLength="11.00" lengthAdjust="spacingAndGlyphs">20</text>
<line x1="350.83" y1="585.40" x2="350.83" y2="589.40" stroke="#777" stroke-width="0.8" />
<line x1="377.59" y1="585.40" x2="377.59" y2="589.40" stroke="#777" stroke-width="0.8" />
<line x1="404.22" y1="585.40" x2="404.22" y2="589.40" stroke="#777" stroke-width="0.8" />
<line x1="430.85" y1="585.40" x2="430.85" y2="589.40" stroke="#777" stroke-width="0.8" />
<circle cx="345.18" cy="527.09" r="2.4" fill="none" stroke="#000" stroke-width="1.3"/>
<circle cx="356.98" cy="527.59" r="2.4" fill="none" stroke="#000" stroke-width="1.3"/>
<circle cx="350.70" cy="538.89" r="2.4" fill="none" stroke="#000" stroke-width="1.3"/>
<circle cx="371.06" cy="493.42" r="2.4" fill="none" stroke="#000" stroke-width="1.3"/>
<circle cx="377.59" cy="492.91" r="2.4" fill="none" stroke="#000" stroke-width="1.3"/>
<circle cx="384.12" cy="493.42" r="2.4" fill="none" stroke="#000" stroke-width="1.3"/>
<circle cx="375.58" cy="498.44" r="2.4" fill="none" stroke="#000" stroke-width="1.3"/>
<circle cx="380.85" cy="500.95" r="2.4" fill="none" stroke="#000" stroke-width="1.3"/>
<circle cx="377.59" cy="511.76" r="2.4" fill="none" stroke="#000" stroke-width="1.3"/>
<circle cx="397.69" cy="485.38" r="2.4" fill="none" stroke="#000" stroke-width="1.3"/>
<circle cx="410.50" cy="482.86" r="2.4" fill="none" stroke="#000" stroke-width="1.3"/>
<circle cx="397.69" cy="494.92" r="2.4" fill="none" stroke="#000" stroke-width="1.3"/>
<circle cx="410.50" cy="490.90" r="2.4" fill="none" stroke="#000" stroke-width="1.3"/>
<circle cx="397.69" cy="502.21" r="2.4" fill="none" stroke="#000" stroke-width="1.3"/>
<circle cx="410.50" cy="501.71" r="2.4" fill="none" stroke="#000" stroke-width="1.3"/>
<circle cx="424.32" cy="556.48" r="2.4" fill="none" stroke="#000" stroke-width="1.3"/>
<circle cx="437.14" cy="560.00" r="2.4" fill="none" stroke="#000" stroke-width="1.3"/>
<circle cx="424.32" cy="562.76" r="2.4" fill="none" stroke="#000" stroke-width="1.3"/>
<circle cx="430.85" cy="560.75" r="2.4" fill="none" stroke="#000" stroke-width="1.3"/>
<g transform="translate(356.83 598.20) rotate(-45)" font-size="10.2">
<text x="0" y="0" text-anchor="end">Ctrl</text>
</g>
<g transform="translate(383.59 598.20) rotate(-45)" font-size="10.2">
<text x="-9.60" y="-3.4" font-size="7.8" font-style="italic" textLength="9.6" lengthAdjust="spacingAndGlyphs">−/−</text>
<text x="-46.40" y="0" font-style="italic" textLength="36.5" lengthAdjust="spacingAndGlyphs">GALNT2</text>
</g>
<g transform="translate(410.22 598.20) rotate(-45)" font-size="10.2">
<text x="-29.50" y="0" textLength="29.5" lengthAdjust="spacingAndGlyphs">-eGFP</text>
<text x="-41.40" y="-3.4" font-size="7.8" font-style="italic" textLength="9.6" lengthAdjust="spacingAndGlyphs">−/−</text>
<text x="-78.20" y="0" font-style="italic" textLength="36.5" lengthAdjust="spacingAndGlyphs">GALNT2</text>
</g>
<g transform="translate(436.85 598.20) rotate(-45)" font-size="10.2">
<text x="-42.00" y="0" textLength="42.0" lengthAdjust="spacingAndGlyphs">-GALNT2</text>
<text x="-53.90" y="-3.4" font-size="7.8" font-style="italic" textLength="9.6" lengthAdjust="spacingAndGlyphs">−/−</text>
<text x="-90.70" y="0" font-style="italic" textLength="36.5" lengthAdjust="spacingAndGlyphs">GALNT2</text>
</g>
<text x="383.62" y="430.60" font-size="10.3" text-anchor="middle">HCoV-229E</text>
<text x="335.13" y="475.83" font-size="8.6" textLength="43.97" lengthAdjust="spacingAndGlyphs"><tspan font-style="italic">P</tspan> = 0.0003</text>
<text x="358.24" y="485.81" font-size="9" text-anchor="middle">***</text>
<line x1="348.44" y1="484.87" x2="370.80" y2="484.87" stroke="#444" stroke-width="0.8" />
<text x="402.96" y="467.47" font-size="9" text-anchor="middle">****</text>
<text x="412.51" y="465.78" font-size="8.6" textLength="42.46" lengthAdjust="spacingAndGlyphs"><tspan font-style="italic">P</tspan> &lt; 0.0001</text>
<line x1="379.10" y1="469.55" x2="433.87" y2="469.55" stroke="#444" stroke-width="0.8" />
<rect x="42.71" y="774.22" width="19.35" height="62.58" fill="#dde3f2" stroke="#888" stroke-width="0.6"/>
<line x1="52.39" y1="767.19" x2="52.39" y2="781.26" stroke="#222" stroke-width="0.75" />
<line x1="49.19" y1="767.19" x2="55.59" y2="767.19" stroke="#222" stroke-width="0.75" />
<line x1="49.19" y1="781.26" x2="55.59" y2="781.26" stroke="#222" stroke-width="0.75" />
<clipPath id="h5"><rect x="71.61" y="747.84" width="19.35" height="88.96"/></clipPath>
<rect x="71.61" y="747.84" width="19.35" height="88.96" fill="#fff"/>
<path clip-path="url(#h5)" d="M70.6 855.4L92.0 837.5M70.6 850.4L92.0 832.5M70.6 845.4L92.0 827.5M70.6 840.5L92.0 822.5M70.6 835.5L92.0 817.6M70.6 830.5L92.0 812.6M70.6 825.5L92.0 807.6M70.6 820.5L92.0 802.6M70.6 815.6L92.0 797.7M70.6 810.6L92.0 792.7M70.6 805.6L92.0 787.7M70.6 800.6L92.0 782.7M70.6 795.7L92.0 777.7M70.6 790.7L92.0 772.8M70.6 785.7L92.0 767.8M70.6 780.7L92.0 762.8M70.6 775.7L92.0 757.8M70.6 770.8L92.0 752.8M70.6 765.8L92.0 747.9M70.6 760.8L92.0 742.9M70.6 755.8L92.0 737.9M70.6 750.8L92.0 732.9" stroke="#66a9d2" stroke-width="2.06" fill="none"/>
<rect x="71.61" y="747.84" width="19.35" height="88.96" fill="none" stroke="#444" stroke-width="0.6"/>
<line x1="81.28" y1="740.30" x2="81.28" y2="755.38" stroke="#222" stroke-width="0.75" />
<line x1="78.08" y1="740.30" x2="84.48" y2="740.30" stroke="#222" stroke-width="0.75" />
<line x1="78.08" y1="755.38" x2="84.48" y2="755.38" stroke="#222" stroke-width="0.75" />
<rect x="100.25" y="751.61" width="19.35" height="85.19" fill="#66a9d2" stroke="#444" stroke-width="0.6"/>
<line x1="109.92" y1="745.08" x2="109.92" y2="756.63" stroke="#222" stroke-width="0.75" />
<line x1="106.72" y1="745.08" x2="113.12" y2="745.08" stroke="#222" stroke-width="0.75" />
<line x1="106.72" y1="756.63" x2="113.12" y2="756.63" stroke="#222" stroke-width="0.75" />
<rect x="129.15" y="771.46" width="19.60" height="65.34" fill="#c5dcf6" stroke="#444" stroke-width="0.6"/>
<line x1="138.94" y1="766.28" x2="138.94" y2="776.81" stroke="#222" stroke-width="0.75" />
<line x1="135.74" y1="766.28" x2="142.14" y2="766.28" stroke="#222" stroke-width="0.75" />
<line x1="135.74" y1="776.81" x2="142.14" y2="776.81" stroke="#222" stroke-width="0.75" />
<line x1="33.40" y1="709.30" x2="33.40" y2="837.20" stroke="#777" stroke-width="0.8" />
<line x1="29.10" y1="836.80" x2="157.80" y2="836.80" stroke="#777" stroke-width="0.8" />
<line x1="29.10" y1="836.80" x2="33.40" y2="836.80" stroke="#777" stroke-width="0.8" />
<text x="26.20" y="840.10" font-size="9.3" text-anchor="end" textLength="5.50" lengthAdjust="spacingAndGlyphs">0</text>
<line x1="29.10" y1="805.00" x2="33.40" y2="805.00" stroke="#777" stroke-width="0.8" />
<text x="26.20" y="808.30" font-size="9.3" text-anchor="end" textLength="11.00" lengthAdjust="spacingAndGlyphs">20</text>
<line x1="29.10" y1="773.20" x2="33.40" y2="773.20" stroke="#777" stroke-width="0.8" />
<text x="26.20" y="776.50" font-size="9.3" text-anchor="end" textLength="11.00" lengthAdjust="spacingAndGlyphs">40</text>
<line x1="29.10" y1="741.40" x2="33.40" y2="741.40" stroke="#777" stroke-width="0.8" />
<text x="26.20" y="744.70" font-size="9.3" text-anchor="end" textLength="11.00" lengthAdjust="spacingAndGlyphs">60</text>
<line x1="29.10" y1="709.60" x2="33.40" y2="709.60" stroke="#777" stroke-width="0.8" />
<text x="26.20" y="712.90" font-size="9.3" text-anchor="end" textLength="11.00" lengthAdjust="spacingAndGlyphs">80</text>
<line x1="52.39" y1="836.80" x2="52.39" y2="840.80" stroke="#777" stroke-width="0.8" />
<line x1="81.28" y1="836.80" x2="81.28" y2="840.80" stroke="#777" stroke-width="0.8" />
<line x1="109.92" y1="836.80" x2="109.92" y2="840.80" stroke="#777" stroke-width="0.8" />
<line x1="138.94" y1="836.80" x2="138.94" y2="840.80" stroke="#777" stroke-width="0.8" />
<circle cx="52.26" cy="765.43" r="2.55" fill="none" stroke="#000" stroke-width="1.3"/>
<circle cx="45.73" cy="771.21" r="2.55" fill="none" stroke="#000" stroke-width="1.3"/>
<circle cx="59.55" cy="773.47" r="2.55" fill="none" stroke="#000" stroke-width="1.3"/>
<circle cx="50.25" cy="774.97" r="2.55" fill="none" stroke="#000" stroke-width="1.3"/>
<circle cx="54.92" cy="776.73" r="2.55" fill="none" stroke="#000" stroke-width="1.3"/>
<circle cx="52.26" cy="785.53" r="2.55" fill="none" stroke="#000" stroke-width="1.3"/>
<circle cx="74.37" cy="743.49" r="2.55" fill="none" stroke="#000" stroke-width="1.3"/>
<circle cx="83.54" cy="742.76" r="2.55" fill="none" stroke="#000" stroke-width="1.3"/>
<circle cx="88.64" cy="744.32" r="2.55" fill="none" stroke="#000" stroke-width="1.3"/>
<circle cx="78.94" cy="746.33" r="2.55" fill="none" stroke="#000" stroke-width="1.3"/>
<circle cx="83.84" cy="748.84" r="2.55" fill="none" stroke="#000" stroke-width="1.3"/>
<circle cx="81.18" cy="763.02" r="2.55" fill="none" stroke="#000" stroke-width="1.3"/>
<circle cx="109.92" cy="740.23" r="2.55" fill="none" stroke="#000" stroke-width="1.3"/>
<circle cx="109.92" cy="747.16" r="2.55" fill="none" stroke="#000" stroke-width="1.3"/>
<circle cx="103.09" cy="752.69" r="2.55" fill="none" stroke="#000" stroke-width="1.3"/>
<circle cx="109.92" cy="755.03" r="2.55" fill="none" stroke="#000" stroke-width="1.3"/>
<circle cx="117.09" cy="756.78" r="2.55" fill="none" stroke="#000" stroke-width="1.3"/>
<circle cx="103.09" cy="759.15" r="2.55" fill="none" stroke="#000" stroke-width="1.3"/>
<circle cx="146.41" cy="764.75" r="2.55" fill="none" stroke="#000" stroke-width="1.3"/>
<circle cx="131.38" cy="769.55" r="2.55" fill="none" stroke="#000" stroke-width="1.3"/>
<circle cx="138.74" cy="769.15" r="2.55" fill="none" stroke="#000" stroke-width="1.3"/>
<circle cx="146.41" cy="771.71" r="2.55" fill="none" stroke="#000" stroke-width="1.3"/>
<circle cx="138.74" cy="773.72" r="2.55" fill="none" stroke="#000" stroke-width="1.3"/>
<circle cx="138.74" cy="780.38" r="2.55" fill="none" stroke="#000" stroke-width="1.3"/>
<g transform="translate(58.39 849.60) rotate(-45)" font-size="10.2">
<text x="0" y="0" text-anchor="end">Ctrl</text>
</g>
<g transform="translate(87.28 849.60) rotate(-45)" font-size="10.2">
<text x="-9.60" y="-3.4" font-size="7.8" font-style="italic" textLength="9.6" lengthAdjust="spacingAndGlyphs">−/−</text>
<text x="-46.40" y="0" font-style="italic" textLength="36.5" lengthAdjust="spacingAndGlyphs">GALNT2</text>
</g>
<g transform="translate(115.92 849.60) rotate(-45)" font-size="10.2">
<text x="-29.50" y="0" textLength="29.5" lengthAdjust="spacingAndGlyphs">-eGFP</text>
<text x="-41.40" y="-3.4" font-size="7.8" font-style="italic" textLength="9.6" lengthAdjust="spacingAndGlyphs">−/−</text>
<text x="-78.20" y="0" font-style="italic" textLength="36.5" lengthAdjust="spacingAndGlyphs">GALNT2</text>
</g>
<g transform="translate(144.94 849.60) rotate(-45)" font-size="10.2">
<text x="-42.00" y="0" textLength="42.0" lengthAdjust="spacingAndGlyphs">-GALNT2</text>
<text x="-53.90" y="-3.4" font-size="7.8" font-style="italic" textLength="9.6" lengthAdjust="spacingAndGlyphs">−/−</text>
<text x="-90.70" y="0" font-style="italic" textLength="36.5" lengthAdjust="spacingAndGlyphs">GALNT2</text>
</g>
<text x="9.30" y="772.96" font-size="10.4" text-anchor="middle" textLength="81.50" lengthAdjust="spacingAndGlyphs" transform="rotate(-90 9.30 772.96)">Infected cells (%)</text>
<text x="77.64" y="688.04" font-size="10.3" text-anchor="middle" textLength="73.60" lengthAdjust="spacingAndGlyphs">CAO4 pdmH1N1</text>
<text x="40.70" y="722.21" font-size="8.6" textLength="41.71" lengthAdjust="spacingAndGlyphs"><tspan font-style="italic">P</tspan> &lt; 0.0001</text>
<text x="61.56" y="731.44" font-size="9" text-anchor="middle">****</text>
<line x1="50.25" y1="734.02" x2="75.88" y2="734.02" stroke="#444" stroke-width="0.8" />
<text x="93.47" y="708.39" font-size="8.6" textLength="42.21" lengthAdjust="spacingAndGlyphs"><tspan font-style="italic">P</tspan> &lt; 0.0001</text>
<text x="111.81" y="721.14" font-size="9" text-anchor="middle">****</text>
<line x1="81.66" y1="722.71" x2="143.72" y2="722.71" stroke="#444" stroke-width="0.8" />
<rect x="197.16" y="818.94" width="18.09" height="18.86" fill="#dde3f2" stroke="#aaa" stroke-width="0.6"/>
<clipPath id="h6"><rect x="223.79" y="774.97" width="17.84" height="62.83"/></clipPath>
<rect x="223.79" y="774.97" width="17.84" height="62.83" fill="#fff"/>
<path clip-path="url(#h6)" d="M222.8 856.8L242.6 840.2M222.8 852.2L242.6 835.6M222.8 847.6L242.6 831.0M222.8 843.1L242.6 826.4M222.8 838.5L242.6 821.8M222.8 833.9L242.6 817.2M222.8 829.3L242.6 812.6M222.8 824.7L242.6 808.1M222.8 820.1L242.6 803.5M222.8 815.5L242.6 798.9M222.8 810.9L242.6 794.3M222.8 806.4L242.6 789.7M222.8 801.8L242.6 785.1M222.8 797.2L242.6 780.5M222.8 792.6L242.6 775.9M222.8 788.0L242.6 771.4M222.8 783.4L242.6 766.8M222.8 778.8L242.6 762.2" stroke="#66a9d2" stroke-width="1.90" fill="none"/>
<rect x="223.79" y="774.97" width="17.84" height="62.83" fill="none" stroke="#444" stroke-width="0.6"/>
<line x1="232.71" y1="763.67" x2="232.71" y2="788.54" stroke="#888" stroke-width="0.75" />
<line x1="229.51" y1="763.67" x2="235.91" y2="763.67" stroke="#888" stroke-width="0.75" />
<line x1="229.51" y1="788.54" x2="235.91" y2="788.54" stroke="#888" stroke-width="0.75" />
<rect x="250.43" y="771.21" width="17.84" height="66.59" fill="#66a9d2" stroke="#444" stroke-width="0.6"/>
<line x1="259.35" y1="757.89" x2="259.35" y2="783.52" stroke="#888" stroke-width="0.75" />
<line x1="256.15" y1="757.89" x2="262.55" y2="757.89" stroke="#888" stroke-width="0.75" />
<line x1="256.15" y1="783.52" x2="262.55" y2="783.52" stroke="#888" stroke-width="0.75" />
<rect x="277.06" y="809.90" width="17.84" height="27.90" fill="#c5dcf6" stroke="#444" stroke-width="0.6"/>
<line x1="285.98" y1="804.87" x2="285.98" y2="815.68" stroke="#888" stroke-width="0.75" />
<line x1="282.78" y1="804.87" x2="289.18" y2="804.87" stroke="#888" stroke-width="0.75" />
<line x1="282.78" y1="815.68" x2="289.18" y2="815.68" stroke="#888" stroke-width="0.75" />
<line x1="188.40" y1="721.70" x2="188.40" y2="838.20" stroke="#777" stroke-width="0.8" />
<line x1="184.10" y1="837.80" x2="303.20" y2="837.80" stroke="#777" stroke-width="0.8" />
<line x1="184.10" y1="837.80" x2="188.40" y2="837.80" stroke="#777" stroke-width="0.8" />
<text x="181.20" y="841.10" font-size="9.3" text-anchor="end" textLength="5.50" lengthAdjust="spacingAndGlyphs">0</text>
<line x1="184.10" y1="814.64" x2="188.40" y2="814.64" stroke="#777" stroke-width="0.8" />
<text x="181.20" y="817.94" font-size="9.3" text-anchor="end" textLength="5.50" lengthAdjust="spacingAndGlyphs">5</text>
<line x1="184.10" y1="791.48" x2="188.40" y2="791.48" stroke="#777" stroke-width="0.8" />
<text x="181.20" y="794.78" font-size="9.3" text-anchor="end" textLength="11.00" lengthAdjust="spacingAndGlyphs">10</text>
<line x1="184.10" y1="768.32" x2="188.40" y2="768.32" stroke="#777" stroke-width="0.8" />
<text x="181.20" y="771.62" font-size="9.3" text-anchor="end" textLength="11.00" lengthAdjust="spacingAndGlyphs">15</text>
<line x1="184.10" y1="745.16" x2="188.40" y2="745.16" stroke="#777" stroke-width="0.8" />
<text x="181.20" y="748.46" font-size="9.3" text-anchor="end" textLength="11.00" lengthAdjust="spacingAndGlyphs">20</text>
<line x1="184.10" y1="722.00" x2="188.40" y2="722.00" stroke="#777" stroke-width="0.8" />
<text x="181.20" y="725.30" font-size="9.3" text-anchor="end" textLength="11.00" lengthAdjust="spacingAndGlyphs">25</text>
<line x1="206.21" y1="837.80" x2="206.21" y2="841.80" stroke="#777" stroke-width="0.8" />
<line x1="232.71" y1="837.80" x2="232.71" y2="841.80" stroke="#777" stroke-width="0.8" />
<line x1="259.35" y1="837.80" x2="259.35" y2="841.80" stroke="#777" stroke-width="0.8" />
<line x1="285.98" y1="837.80" x2="285.98" y2="841.80" stroke="#777" stroke-width="0.8" />
<circle cx="200.18" cy="818.94" r="2.35" fill="none" stroke="#000" stroke-width="1.3"/>
<circle cx="203.19" cy="816.93" r="2.35" fill="none" stroke="#000" stroke-width="1.3"/>
<circle cx="206.21" cy="813.92" r="2.35" fill="none" stroke="#000" stroke-width="1.3"/>
<circle cx="209.22" cy="816.93" r="2.35" fill="none" stroke="#000" stroke-width="1.3"/>
<circle cx="212.49" cy="820.70" r="2.35" fill="none" stroke="#000" stroke-width="1.3"/>
<circle cx="206.21" cy="817.69" r="2.35" fill="none" stroke="#000" stroke-width="1.3"/>
<circle cx="232.59" cy="761.66" r="2.35" fill="none" stroke="#000" stroke-width="1.3"/>
<circle cx="226.06" cy="766.68" r="2.35" fill="none" stroke="#000" stroke-width="1.3"/>
<circle cx="239.12" cy="767.94" r="2.35" fill="none" stroke="#000" stroke-width="1.3"/>
<circle cx="226.06" cy="775.48" r="2.35" fill="none" stroke="#000" stroke-width="1.3"/>
<circle cx="239.12" cy="779.75" r="2.35" fill="none" stroke="#000" stroke-width="1.3"/>
<circle cx="232.59" cy="798.59" r="2.35" fill="none" stroke="#000" stroke-width="1.3"/>
<circle cx="259.22" cy="749.10" r="2.35" fill="none" stroke="#000" stroke-width="1.3"/>
<circle cx="252.69" cy="767.19" r="2.35" fill="none" stroke="#000" stroke-width="1.3"/>
<circle cx="265.50" cy="769.70" r="2.35" fill="none" stroke="#000" stroke-width="1.3"/>
<circle cx="252.69" cy="772.21" r="2.35" fill="none" stroke="#000" stroke-width="1.3"/>
<circle cx="259.22" cy="781.01" r="2.35" fill="none" stroke="#000" stroke-width="1.3"/>
<circle cx="259.22" cy="787.29" r="2.35" fill="none" stroke="#000" stroke-width="1.3"/>
<circle cx="279.32" cy="808.14" r="2.35" fill="none" stroke="#000" stroke-width="1.3"/>
<circle cx="285.85" cy="808.14" r="2.35" fill="none" stroke="#000" stroke-width="1.3"/>
<circle cx="292.14" cy="804.37" r="2.35" fill="none" stroke="#000" stroke-width="1.3"/>
<circle cx="292.14" cy="810.65" r="2.35" fill="none" stroke="#000" stroke-width="1.3"/>
<circle cx="285.85" cy="821.21" r="2.35" fill="none" stroke="#000" stroke-width="1.3"/>
<circle cx="282.59" cy="807.64" r="2.35" fill="none" stroke="#000" stroke-width="1.3"/>
<g transform="translate(212.21 850.60) rotate(-45)" font-size="10.2">
<text x="0" y="0" text-anchor="end">Ctrl</text>
</g>
<g transform="translate(238.71 850.60) rotate(-45)" font-size="10.2">
<text x="-9.60" y="-3.4" font-size="7.8" font-style="italic" textLength="9.6" lengthAdjust="spacingAndGlyphs">−/−</text>
<text x="-46.40" y="0" font-style="italic" textLength="36.5" lengthAdjust="spacingAndGlyphs">GALNT2</text>
</g>
<g transform="translate(265.35 850.60) rotate(-45)" font-size="10.2">
<text x="-29.50" y="0" textLength="29.5" lengthAdjust="spacingAndGlyphs">-eGFP</text>
<text x="-41.40" y="-3.4" font-size="7.8" font-style="italic" textLength="9.6" lengthAdjust="spacingAndGlyphs">−/−</text>
<text x="-78.20" y="0" font-style="italic" textLength="36.5" lengthAdjust="spacingAndGlyphs">GALNT2</text>
</g>
<g transform="translate(291.98 850.60) rotate(-45)" font-size="10.2">
<text x="-42.00" y="0" textLength="42.0" lengthAdjust="spacingAndGlyphs">-GALNT2</text>
<text x="-53.90" y="-3.4" font-size="7.8" font-style="italic" textLength="9.6" lengthAdjust="spacingAndGlyphs">−/−</text>
<text x="-90.70" y="0" font-style="italic" textLength="36.5" lengthAdjust="spacingAndGlyphs">GALNT2</text>
</g>
<text x="233.34" y="688.29" font-size="10.3" text-anchor="middle">HK68 H3N2</text>
<text x="200.18" y="715.93" font-size="8.6" textLength="42.21" lengthAdjust="spacingAndGlyphs"><tspan font-style="italic">P</tspan> &lt; 0.0001</text>
<text x="219.52" y="728.92" font-size="9" text-anchor="middle">****</text>
<line x1="206.21" y1="730.75" x2="235.85" y2="730.75" stroke="#444" stroke-width="0.8" />
<text x="245.90" y="723.22" font-size="8.6" textLength="42.21" lengthAdjust="spacingAndGlyphs"><tspan font-style="italic">P</tspan> = 0.0001</text>
<text x="259.72" y="736.21" font-size="9" text-anchor="middle">****</text>
<line x1="234.60" y1="738.29" x2="287.11" y2="738.29" stroke="#444" stroke-width="0.8" />
<rect x="341.71" y="777.99" width="17.84" height="59.31" fill="#dde3f2" stroke="#555" stroke-width="0.6"/>
<clipPath id="h7"><rect x="368.34" y="742.81" width="17.59" height="94.49"/></clipPath>
<rect x="368.34" y="742.81" width="17.59" height="94.49" fill="#fff"/>
<path clip-path="url(#h7)" d="M367.3 853.0L386.9 836.6M367.3 848.5L386.9 832.1M367.3 844.0L386.9 827.6M367.3 839.5L386.9 823.1M367.3 835.1L386.9 818.6M367.3 830.6L386.9 814.1M367.3 826.1L386.9 809.6M367.3 821.6L386.9 805.1M367.3 817.1L386.9 800.7M367.3 812.6L386.9 796.2M367.3 808.1L386.9 791.7M367.3 803.6L386.9 787.2M367.3 799.1L386.9 782.7M367.3 794.6L386.9 778.2M367.3 790.1L386.9 773.7M367.3 785.7L386.9 769.2M367.3 781.2L386.9 764.7M367.3 776.7L386.9 760.2M367.3 772.2L386.9 755.8M367.3 767.7L386.9 751.3M367.3 763.2L386.9 746.8M367.3 758.7L386.9 742.3M367.3 754.2L386.9 737.8M367.3 749.7L386.9 733.3M367.3 745.2L386.9 728.8" stroke="#66a9d2" stroke-width="1.86" fill="none"/>
<rect x="368.34" y="742.81" width="17.59" height="94.49" fill="none" stroke="#444" stroke-width="0.6"/>
<rect x="394.47" y="748.59" width="17.59" height="88.71" fill="#66a9d2" stroke="#444" stroke-width="0.6"/>
<rect x="420.60" y="779.50" width="17.59" height="57.80" fill="#c5dcf6" stroke="#444" stroke-width="0.6"/>
<line x1="429.40" y1="765.43" x2="429.40" y2="793.07" stroke="#444" stroke-width="0.75" />
<line x1="426.20" y1="765.43" x2="432.60" y2="765.43" stroke="#444" stroke-width="0.75" />
<line x1="426.20" y1="793.07" x2="432.60" y2="793.07" stroke="#444" stroke-width="0.75" />
<line x1="332.70" y1="722.90" x2="332.70" y2="837.70" stroke="#777" stroke-width="0.8" />
<line x1="328.40" y1="837.30" x2="446.50" y2="837.30" stroke="#777" stroke-width="0.8" />
<line x1="328.40" y1="837.30" x2="332.70" y2="837.30" stroke="#777" stroke-width="0.8" />
<text x="325.50" y="840.60" font-size="9.3" text-anchor="end" textLength="5.50" lengthAdjust="spacingAndGlyphs">0</text>
<line x1="328.40" y1="814.48" x2="332.70" y2="814.48" stroke="#777" stroke-width="0.8" />
<text x="325.50" y="817.78" font-size="9.3" text-anchor="end" textLength="11.00" lengthAdjust="spacingAndGlyphs">20</text>
<line x1="328.40" y1="791.66" x2="332.70" y2="791.66" stroke="#777" stroke-width="0.8" />
<text x="325.50" y="794.96" font-size="9.3" text-anchor="end" textLength="11.00" lengthAdjust="spacingAndGlyphs">40</text>
<line x1="328.40" y1="768.84" x2="332.70" y2="768.84" stroke="#777" stroke-width="0.8" />
<text x="325.50" y="772.14" font-size="9.3" text-anchor="end" textLength="11.00" lengthAdjust="spacingAndGlyphs">60</text>
<line x1="328.40" y1="746.02" x2="332.70" y2="746.02" stroke="#777" stroke-width="0.8" />
<text x="325.50" y="749.32" font-size="9.3" text-anchor="end" textLength="11.00" lengthAdjust="spacingAndGlyphs">80</text>
<line x1="328.40" y1="723.20" x2="332.70" y2="723.20" stroke="#777" stroke-width="0.8" />
<text x="325.50" y="726.50" font-size="9.3" text-anchor="end" textLength="16.50" lengthAdjust="spacingAndGlyphs">100</text>
<line x1="350.63" y1="837.30" x2="350.63" y2="841.30" stroke="#777" stroke-width="0.8" />
<line x1="377.14" y1="837.30" x2="377.14" y2="841.30" stroke="#777" stroke-width="0.8" />
<line x1="403.27" y1="837.30" x2="403.27" y2="841.30" stroke="#777" stroke-width="0.8" />
<line x1="429.40" y1="837.30" x2="429.40" y2="841.30" stroke="#777" stroke-width="0.8" />
<circle cx="344.22" cy="774.22" r="2.3" fill="none" stroke="#000" stroke-width="1.3"/>
<circle cx="350.50" cy="770.95" r="2.3" fill="none" stroke="#000" stroke-width="1.3"/>
<circle cx="357.29" cy="771.71" r="2.3" fill="none" stroke="#000" stroke-width="1.3"/>
<circle cx="350.50" cy="775.48" r="2.3" fill="none" stroke="#000" stroke-width="1.3"/>
<circle cx="357.29" cy="776.73" r="2.3" fill="none" stroke="#000" stroke-width="1.3"/>
<circle cx="344.22" cy="780.00" r="2.3" fill="none" stroke="#000" stroke-width="1.3"/>
<circle cx="370.60" cy="739.05" r="2.3" fill="none" stroke="#000" stroke-width="1.3"/>
<circle cx="373.87" cy="740.30" r="2.3" fill="none" stroke="#000" stroke-width="1.3"/>
<circle cx="377.14" cy="739.55" r="2.3" fill="none" stroke="#000" stroke-width="1.3"/>
<circle cx="380.40" cy="742.81" r="2.3" fill="none" stroke="#000" stroke-width="1.3"/>
<circle cx="383.67" cy="741.56" r="2.3" fill="none" stroke="#000" stroke-width="1.3"/>
<circle cx="370.60" cy="742.81" r="2.3" fill="none" stroke="#000" stroke-width="1.3"/>
<circle cx="403.27" cy="740.30" r="2.3" fill="none" stroke="#000" stroke-width="1.3"/>
<circle cx="396.73" cy="746.58" r="2.3" fill="none" stroke="#000" stroke-width="1.3"/>
<circle cx="400.00" cy="745.83" r="2.3" fill="none" stroke="#000" stroke-width="1.3"/>
<circle cx="406.53" cy="745.83" r="2.3" fill="none" stroke="#000" stroke-width="1.3"/>
<circle cx="409.80" cy="747.84" r="2.3" fill="none" stroke="#000" stroke-width="1.3"/>
<circle cx="403.27" cy="745.83" r="2.3" fill="none" stroke="#000" stroke-width="1.3"/>
<circle cx="422.86" cy="764.92" r="2.3" fill="none" stroke="#000" stroke-width="1.3"/>
<circle cx="429.40" cy="768.44" r="2.3" fill="none" stroke="#000" stroke-width="1.3"/>
<circle cx="435.68" cy="768.44" r="2.3" fill="none" stroke="#000" stroke-width="1.3"/>
<circle cx="429.40" cy="783.52" r="2.3" fill="none" stroke="#000" stroke-width="1.3"/>
<circle cx="425.63" cy="795.08" r="2.3" fill="none" stroke="#000" stroke-width="1.3"/>
<circle cx="432.41" cy="793.57" r="2.3" fill="none" stroke="#000" stroke-width="1.3"/>
<g transform="translate(356.63 850.10) rotate(-45)" font-size="10.2">
<text x="0" y="0" text-anchor="end">Ctrl</text>
</g>
<g transform="translate(383.14 850.10) rotate(-45)" font-size="10.2">
<text x="-9.60" y="-3.4" font-size="7.8" font-style="italic" textLength="9.6" lengthAdjust="spacingAndGlyphs">−/−</text>
<text x="-46.40" y="0" font-style="italic" textLength="36.5" lengthAdjust="spacingAndGlyphs">GALNT2</text>
</g>
<g transform="translate(409.27 850.10) rotate(-45)" font-size="10.2">
<text x="-29.50" y="0" textLength="29.5" lengthAdjust="spacingAndGlyphs">-eGFP</text>
<text x="-41.40" y="-3.4" font-size="7.8" font-style="italic" textLength="9.6" lengthAdjust="spacingAndGlyphs">−/−</text>
<text x="-78.20" y="0" font-style="italic" textLength="36.5" lengthAdjust="spacingAndGlyphs">GALNT2</text>
</g>
<g transform="translate(435.40 850.10) rotate(-45)" font-size="10.2">
<text x="-42.00" y="0" textLength="42.0" lengthAdjust="spacingAndGlyphs">-GALNT2</text>
<text x="-53.90" y="-3.4" font-size="7.8" font-style="italic" textLength="9.6" lengthAdjust="spacingAndGlyphs">−/−</text>
<text x="-90.70" y="0" font-style="italic" textLength="36.5" lengthAdjust="spacingAndGlyphs">GALNT2</text>
</g>
<text x="323.87" y="688.29" font-size="10.3" textLength="32.80" lengthAdjust="spacingAndGlyphs">G1_PB2</text>
<text x="357.17" y="690.79" font-size="7" textLength="20.30" lengthAdjust="spacingAndGlyphs">E627K</text>
<text x="380.47" y="688.29" font-size="10.3" textLength="25.70" lengthAdjust="spacingAndGlyphs">H9N2</text>
<text x="359.55" y="723.15" font-size="9" text-anchor="middle">****</text>
<text x="372.11" y="722.21" font-size="8.6" textLength="42.21" lengthAdjust="spacingAndGlyphs"><tspan font-style="italic">P</tspan> &lt; 0.0001</text>
<line x1="346.48" y1="725.73" x2="377.89" y2="725.73" stroke="#444" stroke-width="0.8" />
<text x="381.66" y="698.84" font-size="8.6" textLength="42.21" lengthAdjust="spacingAndGlyphs"><tspan font-style="italic">P</tspan> &lt; 0.0001</text>
<text x="401.01" y="709.33" font-size="9" text-anchor="middle">****</text>
<line x1="372.11" y1="711.41" x2="431.91" y2="711.41" stroke="#444" stroke-width="0.8" />
<text x="464.80" y="447.50" font-size="15.5" fill="#000" font-weight="bold" stroke="#000" stroke-width="0.55">d</text>
<text x="588.60" y="454.60" font-size="10.3" text-anchor="middle" textLength="57.80" lengthAdjust="spacingAndGlyphs">SARS-CoV-2</text>
<text x="555.20" y="468.40" font-size="10.3" text-anchor="middle">Mock</text>
<text x="592.70" y="468.40" font-size="10.3" text-anchor="middle">24 h</text>
<text x="629.60" y="468.40" font-size="10.3" text-anchor="middle">48 h</text>
<text x="652.50" y="469.60" font-size="8.8" textLength="14.00" lengthAdjust="spacingAndGlyphs">kDa</text>
<text x="528.30" y="488.40" font-size="10.3" text-anchor="end" textLength="38.60" lengthAdjust="spacingAndGlyphs">GALNT2</text>
<text x="528.30" y="509.00" font-size="10.3" text-anchor="end" textLength="34.60" lengthAdjust="spacingAndGlyphs">GAPDH</text>
<clipPath id="cbd1"><rect x="533.20" y="473.40" width="114.00" height="19.90"/></clipPath>
<rect x="533.20" y="473.40" width="114.00" height="19.90" fill="#f4f4f4"/>
<g clip-path="url(#cbd1)">
<rect x="534.00" y="484.90" width="32.00" height="3.40" rx="1.70" fill="#000" opacity="0.95" filter="url(#b1)"/>
<ellipse cx="551.00" cy="485.60" rx="13.00" ry="2.60" fill="#000" opacity="0.55" filter="url(#b1)"/>
<ellipse cx="550.00" cy="484.00" rx="15.00" ry="4.00" fill="#000" opacity="0.12" filter="url(#b2)"/>
<rect x="575.50" y="482.50" width="30.00" height="7.60" rx="3.80" fill="#000" opacity="1" filter="url(#b1)"/>
<ellipse cx="590.50" cy="483.50" rx="15.00" ry="6.50" fill="#000" opacity="0.33" filter="url(#b2)"/>
<ellipse cx="590.50" cy="489.00" rx="15.00" ry="5.00" fill="#000" opacity="0.2" filter="url(#b2)"/>
<rect x="614.00" y="482.00" width="27.50" height="7.20" rx="3.60" fill="#000" opacity="1" filter="url(#b1)"/>
<ellipse cx="627.70" cy="483.00" rx="13.50" ry="6.00" fill="#000" opacity="0.3" filter="url(#b2)"/>
<ellipse cx="627.70" cy="489.00" rx="13.50" ry="5.00" fill="#000" opacity="0.2" filter="url(#b2)"/>
</g>
<rect x="533.20" y="473.40" width="114.00" height="19.90" fill="none" stroke="#111" stroke-width="0.9"/>
<clipPath id="cbd2"><rect x="533.20" y="496.10" width="114.00" height="20.30"/></clipPath>
<rect x="533.20" y="496.10" width="114.00" height="20.30" fill="#efefef"/>
<g clip-path="url(#cbd2)">
<rect x="534.00" y="499.00" width="112.00" height="12.00" rx="6.00" fill="#000" opacity="0.1" filter="url(#b2)"/>
<ellipse cx="551.00" cy="503.90" rx="18.50" ry="3.80" fill="#000" opacity="1" filter="url(#b1)"/>
<ellipse cx="590.50" cy="504.00" rx="16.50" ry="3.90" fill="#000" opacity="1" filter="url(#b1)"/>
<ellipse cx="627.50" cy="504.30" rx="14.50" ry="3.00" fill="#000" opacity="0.95" filter="url(#b1)"/>
<ellipse cx="551.00" cy="506.00" rx="17.00" ry="5.00" fill="#000" opacity="0.25" filter="url(#b2)"/>
<ellipse cx="590.50" cy="506.00" rx="16.00" ry="5.00" fill="#000" opacity="0.25" filter="url(#b2)"/>
<ellipse cx="627.50" cy="506.00" rx="14.00" ry="4.50" fill="#000" opacity="0.2" filter="url(#b2)"/>
</g>
<rect x="533.20" y="496.10" width="114.00" height="20.30" fill="none" stroke="#111" stroke-width="0.9"/>
<line x1="647.20" y1="476.40" x2="650.80" y2="476.40" stroke="#111" stroke-width="0.9" />
<text x="653.40" y="479.70" font-size="9.3">70</text>
<line x1="647.20" y1="513.20" x2="650.80" y2="513.20" stroke="#111" stroke-width="0.9" />
<text x="653.40" y="516.50" font-size="9.3">35</text>
<text x="464.80" y="571.70" font-size="15.5" fill="#000" font-weight="bold" stroke="#000" stroke-width="0.55">e</text>
<text x="533.50" y="595.50" font-size="10.2" transform="rotate(-45 533.50 595.50)">Mock</text>
<text x="571.00" y="595.50" font-size="10.2" transform="rotate(-45 571.00 595.50)">IFNα2</text>
<text x="609.00" y="595.50" font-size="10.2" transform="rotate(-45 609.00 595.50)">IFNβ</text>
<text x="650.50" y="595.50" font-size="10.2" transform="rotate(-45 650.50 595.50)">IFNλ</text>
<text x="671.20" y="598.80" font-size="8.8" textLength="14.00" lengthAdjust="spacingAndGlyphs">kDa</text>
<text x="511.80" y="613.30" font-size="10.3" text-anchor="end" textLength="34.50" lengthAdjust="spacingAndGlyphs">pSTAT1</text>
<text x="511.80" y="629.30" font-size="10.3" text-anchor="end" textLength="38.60" lengthAdjust="spacingAndGlyphs">GALNT2</text>
<text x="511.80" y="647.00" font-size="10.3" text-anchor="end" textLength="34.60" lengthAdjust="spacingAndGlyphs">GAPDH</text>
<clipPath id="cbe1"><rect x="516.00" y="599.20" width="149.80" height="17.30"/></clipPath>
<rect x="516.00" y="599.20" width="149.80" height="17.30" fill="#f7f7f7"/>
<g clip-path="url(#cbe1)">
<rect x="557.50" y="604.40" width="33.00" height="5.20" rx="2.60" fill="#000" opacity="1" filter="url(#b1)"/>
<ellipse cx="561.00" cy="610.30" rx="3.40" ry="2.60" fill="#000" opacity="0.9" filter="url(#b1)"/>
<ellipse cx="587.00" cy="610.30" rx="3.40" ry="2.60" fill="#000" opacity="0.9" filter="url(#b1)"/>
<ellipse cx="574.00" cy="607.50" rx="17.00" ry="5.50" fill="#000" opacity="0.35" filter="url(#b2)"/>
<rect x="595.00" y="601.00" width="30.00" height="13.20" rx="6.60" fill="#000" opacity="1" filter="url(#b1)"/>
<ellipse cx="610.00" cy="607.50" rx="16.50" ry="8.50" fill="#000" opacity="0.6" filter="url(#b2)"/>
<ellipse cx="647.00" cy="607.30" rx="15.00" ry="3.20" fill="#000" opacity="0.42" filter="url(#b2)"/>
<ellipse cx="648.00" cy="608.20" rx="12.00" ry="1.60" fill="#000" opacity="0.4" filter="url(#b1)"/>
</g>
<rect x="516.00" y="599.20" width="149.80" height="17.30" fill="none" stroke="#111" stroke-width="0.9"/>
<clipPath id="cbe2"><rect x="516.00" y="619.40" width="149.80" height="10.00"/></clipPath>
<rect x="516.00" y="619.40" width="149.80" height="10.00" fill="#f4f4f4"/>
<g clip-path="url(#cbe2)">
<ellipse cx="526.00" cy="621.80" rx="5.00" ry="1.10" fill="#000" opacity="0.3" filter="url(#b1)"/>
<ellipse cx="541.50" cy="621.80" rx="5.50" ry="1.10" fill="#000" opacity="0.3" filter="url(#b1)"/>
<rect x="557.50" y="620.80" width="33.00" height="7.60" rx="3.80" fill="#000" opacity="1" filter="url(#b1)"/>
<rect x="594.50" y="620.60" width="31.50" height="8.00" rx="4.00" fill="#000" opacity="1" filter="url(#b1)"/>
<rect x="632.00" y="620.80" width="31.50" height="8.00" rx="4.00" fill="#000" opacity="1" filter="url(#b1)"/>
<rect x="557.00" y="622.50" width="107.00" height="5.00" rx="2.50" fill="#000" opacity="0.45" filter="url(#b2)"/>
</g>
<rect x="516.00" y="619.40" width="149.80" height="10.00" fill="none" stroke="#111" stroke-width="0.9"/>
<clipPath id="cbe3"><rect x="516.00" y="633.30" width="149.80" height="18.40"/></clipPath>
<rect x="516.00" y="633.30" width="149.80" height="18.40" fill="#f1f1f1"/>
<g clip-path="url(#cbe3)">
<rect x="518.00" y="637.80" width="147.00" height="9.00" rx="4.50" fill="#000" opacity="0.18" filter="url(#b2)"/>
<ellipse cx="535.50" cy="641.40" rx="16.50" ry="3.10" fill="#000" opacity="1" filter="url(#b1)"/>
<rect x="556.00" y="638.90" width="38.00" height="7.40" rx="3.70" fill="#000" opacity="1" filter="url(#b1)"/>
<rect x="590.00" y="638.90" width="42.00" height="7.80" rx="3.90" fill="#000" opacity="1" filter="url(#b1)"/>
<rect x="628.00" y="638.90" width="37.50" height="7.40" rx="3.70" fill="#000" opacity="1" filter="url(#b1)"/>
</g>
<rect x="516.00" y="633.30" width="149.80" height="18.40" fill="none" stroke="#111" stroke-width="0.9"/>
<line x1="665.80" y1="613.9" x2="669.40" y2="613.9" stroke="#111" stroke-width="0.9"/>
<text x="672.20" y="617.00" font-size="9.3">70</text>
<line x1="665.80" y1="629.9" x2="669.40" y2="629.9" stroke="#111" stroke-width="0.9"/>
<text x="672.20" y="633.00" font-size="9.3">55</text>
<line x1="665.80" y1="651.2" x2="669.40" y2="651.2" stroke="#111" stroke-width="0.9"/>
<text x="672.20" y="654.30" font-size="9.3">35</text>
<text x="533.90" y="665.30" font-size="10.3" text-anchor="middle">1.0</text>
<text x="572.80" y="665.30" font-size="10.3" text-anchor="middle">2.85</text>
<text x="610.60" y="665.30" font-size="10.3" text-anchor="middle">3.24</text>
<text x="648.20" y="665.30" font-size="10.3" text-anchor="middle">3.37</text>
<text x="464.80" y="733.70" font-size="15.5" fill="#000" font-weight="bold" stroke="#000" stroke-width="0.55">f</text>
<text x="545.7" y="741.8" font-size="10.3" text-anchor="middle" font-style="italic">IFNAR<tspan font-size="6.5" dy="-3.6">−/−</tspan><tspan dy="3.6"> mice</tspan></text>
<text x="623.80" y="741.80" font-size="10.3" text-anchor="middle">WT mice</text>
<line x1="510.80" y1="747.30" x2="580.70" y2="747.30" stroke="#111" stroke-width="0.9" />
<line x1="589.10" y1="747.30" x2="658.70" y2="747.30" stroke="#111" stroke-width="0.9" />
<text x="518.70" y="765.30" font-size="10.3" text-anchor="middle">1</text>
<text x="544.40" y="765.30" font-size="10.3" text-anchor="middle">2</text>
<text x="573.30" y="765.30" font-size="10.3" text-anchor="middle">3</text>
<text x="595.60" y="765.30" font-size="10.3" text-anchor="middle">1</text>
<text x="624.00" y="765.30" font-size="10.3" text-anchor="middle">2</text>
<text x="648.20" y="765.30" font-size="10.3" text-anchor="middle">3</text>
<text x="671.20" y="767.80" font-size="8.8" textLength="14.00" lengthAdjust="spacingAndGlyphs">kDa</text>
<text x="503.60" y="784.00" font-size="10.3" text-anchor="end" textLength="34.50" lengthAdjust="spacingAndGlyphs">pSTAT1</text>
<text x="503.60" y="809.20" font-size="10.3" text-anchor="end" textLength="38.60" lengthAdjust="spacingAndGlyphs">GALNT2</text>
<text x="503.60" y="832.50" font-size="10.3" text-anchor="end" textLength="34.60" lengthAdjust="spacingAndGlyphs">GAPDH</text>
<clipPath id="cbf1"><rect x="508.90" y="767.80" width="156.90" height="24.20"/></clipPath>
<rect x="508.90" y="767.80" width="156.90" height="24.20" fill="#f9f9f9"/>
<g clip-path="url(#cbf1)">
<rect x="509.00" y="770.00" width="157.00" height="16.00" rx="8.00" fill="#000" opacity="0.05" filter="url(#b2)"/>
<rect x="510.00" y="774.00" width="20.50" height="2.40" rx="1.20" fill="#000" opacity="0.5" filter="url(#b1)"/>
<rect x="510.00" y="778.50" width="20.50" height="2.20" rx="1.10" fill="#000" opacity="0.35" filter="url(#b1)"/>
<rect x="510.00" y="774.00" width="20.50" height="7.00" rx="3.50" fill="#000" opacity="0.125" filter="url(#b2)"/>
<rect x="538.00" y="774.00" width="17.50" height="2.40" rx="1.20" fill="#000" opacity="0.36" filter="url(#b1)"/>
<rect x="538.00" y="778.50" width="17.50" height="2.20" rx="1.10" fill="#000" opacity="0.252" filter="url(#b1)"/>
<rect x="538.00" y="774.00" width="17.50" height="7.00" rx="3.50" fill="#000" opacity="0.09" filter="url(#b2)"/>
<rect x="564.00" y="774.00" width="17.50" height="2.40" rx="1.20" fill="#000" opacity="0.2" filter="url(#b1)"/>
<rect x="564.00" y="778.50" width="17.50" height="2.20" rx="1.10" fill="#000" opacity="0.13999999999999999" filter="url(#b1)"/>
<rect x="564.00" y="774.00" width="17.50" height="7.00" rx="3.50" fill="#000" opacity="0.05" filter="url(#b2)"/>
<rect x="588.50" y="774.10" width="22.00" height="5.00" rx="2.50" fill="#000" opacity="1" filter="url(#b1)"/>
<rect x="589.50" y="780.70" width="20.00" height="2.60" rx="1.30" fill="#000" opacity="0.92" filter="url(#b1)"/>
<rect x="588.50" y="774.50" width="22.00" height="9.00" rx="4.50" fill="#000" opacity="0.4" filter="url(#b2)"/>
<rect x="616.70" y="774.10" width="20.30" height="5.00" rx="2.50" fill="#000" opacity="1" filter="url(#b1)"/>
<rect x="617.70" y="780.70" width="18.30" height="2.60" rx="1.30" fill="#000" opacity="0.92" filter="url(#b1)"/>
<rect x="616.70" y="774.50" width="20.30" height="9.00" rx="4.50" fill="#000" opacity="0.4" filter="url(#b2)"/>
<rect x="641.60" y="774.10" width="22.90" height="5.00" rx="2.50" fill="#000" opacity="1" filter="url(#b1)"/>
<rect x="642.60" y="780.70" width="20.90" height="2.60" rx="1.30" fill="#000" opacity="0.92" filter="url(#b1)"/>
<rect x="641.60" y="774.50" width="22.90" height="9.00" rx="4.50" fill="#000" opacity="0.4" filter="url(#b2)"/>
</g>
<rect x="508.90" y="767.80" width="156.90" height="24.20" fill="none" stroke="#111" stroke-width="0.9"/>
<clipPath id="cbf2"><rect x="508.90" y="795.40" width="156.90" height="22.10"/></clipPath>
<rect x="508.90" y="795.40" width="156.90" height="22.10" fill="#f8f8f8"/>
<g clip-path="url(#cbf2)">
<rect x="509.00" y="797.00" width="157.00" height="18.00" rx="9.00" fill="#000" opacity="0.06" filter="url(#b2)"/>
<ellipse cx="520.50" cy="803.00" rx="10.50" ry="3.20" fill="#000" opacity="0.22" filter="url(#b2)"/>
<ellipse cx="520.50" cy="810.50" rx="10.50" ry="2.50" fill="#000" opacity="0.099" filter="url(#b2)"/>
<ellipse cx="547.00" cy="803.00" rx="9.00" ry="3.20" fill="#000" opacity="0.36" filter="url(#b2)"/>
<ellipse cx="547.00" cy="810.50" rx="9.00" ry="2.50" fill="#000" opacity="0.162" filter="url(#b2)"/>
<ellipse cx="574.00" cy="803.00" rx="10.00" ry="3.20" fill="#000" opacity="0.45" filter="url(#b2)"/>
<ellipse cx="574.00" cy="810.50" rx="10.00" ry="2.50" fill="#000" opacity="0.2025" filter="url(#b2)"/>
<ellipse cx="600.50" cy="803.60" rx="13.00" ry="3.40" fill="#000" opacity="0.68" filter="url(#b2)"/>
<ellipse cx="600.50" cy="810.00" rx="12.00" ry="3.00" fill="#000" opacity="0.3" filter="url(#b2)"/>
<rect x="615.80" y="799.55" width="23.20" height="10.50" rx="5.25" fill="#000" opacity="1" filter="url(#b1)"/>
<ellipse cx="627.50" cy="804.00" rx="13.00" ry="7.50" fill="#000" opacity="0.6" filter="url(#b2)"/>
<rect x="641.00" y="798.05" width="20.00" height="9.50" rx="4.75" fill="#000" opacity="1" filter="url(#b1)"/>
<ellipse cx="651.00" cy="804.50" rx="11.50" ry="8.00" fill="#000" opacity="0.55" filter="url(#b2)"/>
<ellipse cx="651.00" cy="812.00" rx="9.00" ry="3.00" fill="#000" opacity="0.3" filter="url(#b2)"/>
</g>
<rect x="508.90" y="795.40" width="156.90" height="22.10" fill="none" stroke="#111" stroke-width="0.9"/>
<clipPath id="cbf3"><rect x="508.90" y="820.40" width="156.90" height="24.10"/></clipPath>
<rect x="508.90" y="820.40" width="156.90" height="24.10" fill="#f8f8f8"/>
<g clip-path="url(#cbf3)">
<ellipse cx="522.00" cy="826.30" rx="9.80" ry="2.30" fill="#000" opacity="0.97" filter="url(#b1)"/>
<ellipse cx="548.50" cy="828.80" rx="11.20" ry="3.30" fill="#000" opacity="1" filter="url(#b1)"/>
<ellipse cx="573.50" cy="829.30" rx="11.20" ry="3.30" fill="#000" opacity="1" filter="url(#b1)"/>
<ellipse cx="598.70" cy="830.90" rx="10.80" ry="2.50" fill="#000" opacity="1" filter="url(#b1)"/>
<ellipse cx="626.00" cy="831.90" rx="11.20" ry="3.20" fill="#000" opacity="1" filter="url(#b1)"/>
<ellipse cx="651.50" cy="831.90" rx="11.80" ry="3.20" fill="#000" opacity="1" filter="url(#b1)"/>
</g>
<rect x="508.90" y="820.40" width="156.90" height="24.10" fill="none" stroke="#111" stroke-width="0.9"/>
<line x1="665.80" y1="787.3" x2="669.40" y2="787.3" stroke="#111" stroke-width="0.9"/>
<text x="672.20" y="790.40" font-size="9.3">70</text>
<line x1="665.80" y1="815.6" x2="669.40" y2="815.6" stroke="#111" stroke-width="0.9"/>
<text x="672.20" y="818.70" font-size="9.3">55</text>
<line x1="665.80" y1="839.8" x2="669.40" y2="839.8" stroke="#111" stroke-width="0.9"/>
<text x="672.20" y="842.90" font-size="9.3">35</text>
</svg>
</body></html>
